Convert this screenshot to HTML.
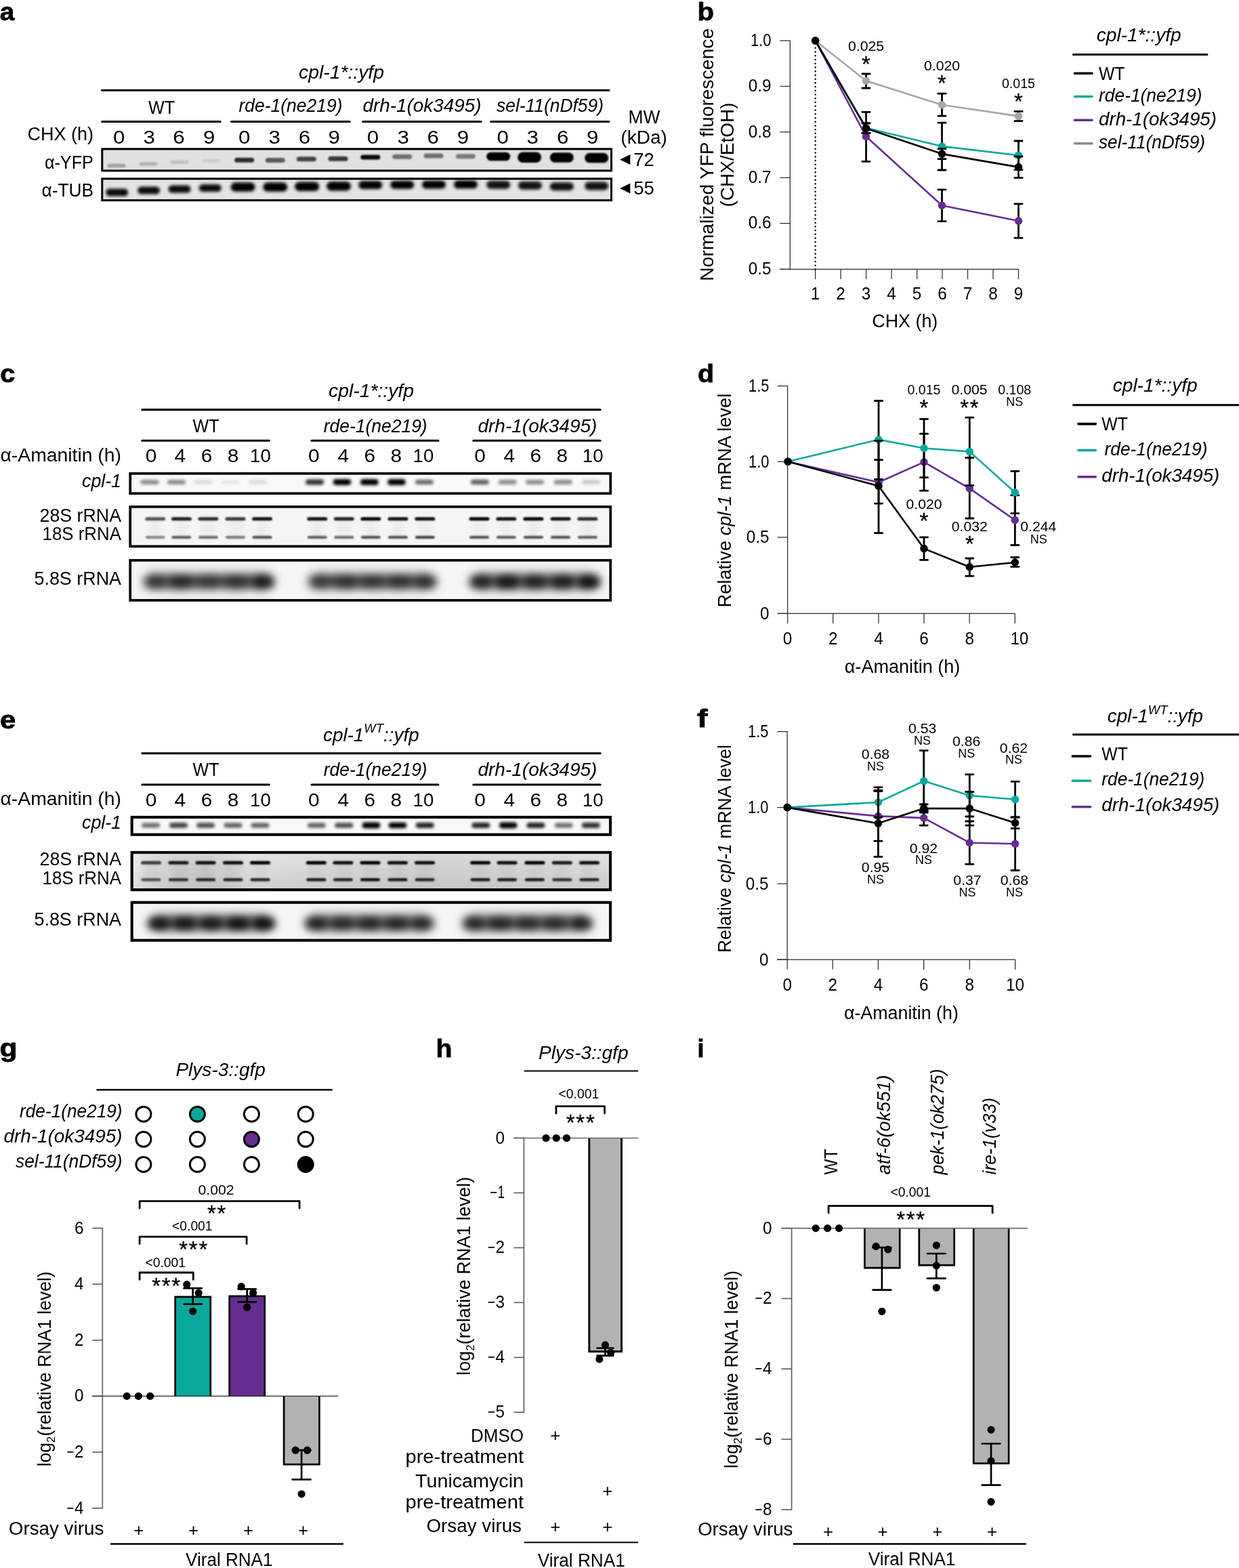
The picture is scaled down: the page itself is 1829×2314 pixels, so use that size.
<!DOCTYPE html>
<html lang="en"><head><meta charset="utf-8"><title>Figure</title>
<style>
html,body{margin:0;padding:0;background:#fff}
body{width:1829px;height:2314px;overflow:hidden}
svg{display:block;font-family:"Liberation Sans",sans-serif}
</style></head><body>
<svg width="1829" height="2314" viewBox="0 0 1829 2314">
<defs>
<filter id="b1" x="-30%" y="-100%" width="160%" height="300%"><feGaussianBlur stdDeviation="1.3"/></filter>
<filter id="b2" x="-30%" y="-100%" width="160%" height="300%"><feGaussianBlur stdDeviation="1.9"/></filter>
<filter id="b3" x="-40%" y="-150%" width="180%" height="400%"><feGaussianBlur stdDeviation="5"/></filter>
<filter id="b5" x="-40%" y="-150%" width="180%" height="400%"><feGaussianBlur stdDeviation="9"/></filter>
<filter id="b4" x="-40%" y="-150%" width="180%" height="400%"><feGaussianBlur stdDeviation="6"/></filter>
<linearGradient id="ge1" x1="0" y1="0" x2="0" y2="1"><stop offset="0" stop-color="#000" stop-opacity="0"/><stop offset="1" stop-color="#000" stop-opacity="0.1"/></linearGradient>
<linearGradient id="ge2" x1="0" y1="0" x2="1" y2="0"><stop offset="0" stop-color="#fff" stop-opacity="0.35"/><stop offset="0.25" stop-color="#000" stop-opacity="0"/><stop offset="0.6" stop-color="#000" stop-opacity="0.06"/><stop offset="1" stop-color="#000" stop-opacity="0.02"/></linearGradient>
<clipPath id="c1"><rect x="149.3" y="218.4" width="754.7" height="35.0"/></clipPath>
<clipPath id="c2"><rect x="149.3" y="262.3" width="754.7" height="34.8"/></clipPath>
<clipPath id="c3"><rect x="190.3" y="696.9" width="712.7" height="33.1"/></clipPath>
<clipPath id="c4"><rect x="190.3" y="746.0" width="712.7" height="62.1"/></clipPath>
<clipPath id="c5"><rect x="190.3" y="825.0" width="712.7" height="62.7"/></clipPath>
<clipPath id="c6"><rect x="192.6" y="1204.0" width="710.4" height="29.8"/></clipPath>
<clipPath id="c7"><rect x="192.6" y="1256.0" width="710.4" height="59.2"/></clipPath>
<clipPath id="c8"><rect x="192.6" y="1329.8" width="710.4" height="60.0"/></clipPath>

</defs>
<rect width="1829" height="2314" fill="#fff"/>
<text x="-0.3" y="29.8" font-size="36" font-weight="bold" textLength="21.5" lengthAdjust="spacingAndGlyphs" stroke="#000" stroke-width="0.8">a</text>
<text x="441.0" y="115.6" font-size="27" font-style="italic" textLength="126.0" lengthAdjust="spacingAndGlyphs" >cpl-1*::yfp</text>
<line x1="150.6" y1="133.2" x2="898.9" y2="133.2" stroke="#000" stroke-width="3.1" stroke-linecap="round" />
<line x1="150.6" y1="179.4" x2="325.1" y2="179.4" stroke="#000" stroke-width="3.0" stroke-linecap="round" />
<line x1="341.5" y1="179.4" x2="516.3" y2="179.4" stroke="#000" stroke-width="3.0" stroke-linecap="round" />
<line x1="535.6" y1="179.4" x2="710.1" y2="179.4" stroke="#000" stroke-width="3.0" stroke-linecap="round" />
<line x1="724.7" y1="179.4" x2="898.9" y2="179.4" stroke="#000" stroke-width="3.0" stroke-linecap="round" />
<text x="219.0" y="168.3" font-size="27" textLength="39.0" lengthAdjust="spacingAndGlyphs" >WT</text>
<text x="352.5" y="165.4" font-size="27" font-style="italic" textLength="153.0" lengthAdjust="spacingAndGlyphs" >rde-1(ne219)</text>
<text x="535.5" y="165.4" font-size="27" font-style="italic" textLength="175.0" lengthAdjust="spacingAndGlyphs" >drh-1(ok3495)</text>
<text x="733.0" y="165.4" font-size="27" font-style="italic" textLength="158.0" lengthAdjust="spacingAndGlyphs" >sel-11(nDf59)</text>
<text x="40.4" y="207.2" font-size="27" textLength="97.5" lengthAdjust="spacingAndGlyphs" >CHX (h)</text>
<text x="175.6" y="212.0" font-size="28.5" text-anchor="middle" textLength="17.4" lengthAdjust="spacingAndGlyphs" >0</text>
<text x="220.1" y="212.0" font-size="28.5" text-anchor="middle" textLength="17.4" lengthAdjust="spacingAndGlyphs" >3</text>
<text x="264.0" y="212.0" font-size="28.5" text-anchor="middle" textLength="17.4" lengthAdjust="spacingAndGlyphs" >6</text>
<text x="308.8" y="212.0" font-size="28.5" text-anchor="middle" textLength="17.4" lengthAdjust="spacingAndGlyphs" >9</text>
<text x="360.7" y="212.0" font-size="28.5" text-anchor="middle" textLength="17.4" lengthAdjust="spacingAndGlyphs" >0</text>
<text x="405.2" y="212.0" font-size="28.5" text-anchor="middle" textLength="17.4" lengthAdjust="spacingAndGlyphs" >3</text>
<text x="449.4" y="212.0" font-size="28.5" text-anchor="middle" textLength="17.4" lengthAdjust="spacingAndGlyphs" >6</text>
<text x="493.3" y="212.0" font-size="28.5" text-anchor="middle" textLength="17.4" lengthAdjust="spacingAndGlyphs" >9</text>
<text x="550.4" y="212.0" font-size="28.5" text-anchor="middle" textLength="17.4" lengthAdjust="spacingAndGlyphs" >0</text>
<text x="595.1" y="212.0" font-size="28.5" text-anchor="middle" textLength="17.4" lengthAdjust="spacingAndGlyphs" >3</text>
<text x="639.3" y="212.0" font-size="28.5" text-anchor="middle" textLength="17.4" lengthAdjust="spacingAndGlyphs" >6</text>
<text x="683.5" y="212.0" font-size="28.5" text-anchor="middle" textLength="17.4" lengthAdjust="spacingAndGlyphs" >9</text>
<text x="742.1" y="212.0" font-size="28.5" text-anchor="middle" textLength="17.4" lengthAdjust="spacingAndGlyphs" >0</text>
<text x="786.3" y="212.0" font-size="28.5" text-anchor="middle" textLength="17.4" lengthAdjust="spacingAndGlyphs" >3</text>
<text x="830.8" y="212.0" font-size="28.5" text-anchor="middle" textLength="17.4" lengthAdjust="spacingAndGlyphs" >6</text>
<text x="874.7" y="212.0" font-size="28.5" text-anchor="middle" textLength="17.4" lengthAdjust="spacingAndGlyphs" >9</text>
<text x="65.9" y="248.8" font-size="27" textLength="72.0" lengthAdjust="spacingAndGlyphs" >α-YFP</text>
<text x="61.5" y="289.8" font-size="27" textLength="76.5" lengthAdjust="spacingAndGlyphs" >α-TUB</text>
<text x="927.4" y="181.5" font-size="27" textLength="47.0" lengthAdjust="spacingAndGlyphs" >MW</text>
<text x="916.3" y="212.2" font-size="27" textLength="68.5" lengthAdjust="spacingAndGlyphs" >(kDa)</text>
<path d="M915 235.6L930.3 228.1V243.1Z" fill="#000"/>
<text x="935.2" y="244.9" font-size="28.5" textLength="30.5" lengthAdjust="spacingAndGlyphs" >72</text>
<path d="M915 278L930.3 270.5V285.5Z" fill="#000"/>
<text x="935.2" y="287.3" font-size="28.5" textLength="30.5" lengthAdjust="spacingAndGlyphs" >55</text>
<rect x="149.3" y="218.4" width="754.7" height="35.0" fill="#e1e1e1" />
<g clip-path="url(#c1)">
<rect x="158.5" y="241.7" width="27.0" height="5.5" rx="2.8" fill="#000" opacity="0.28" filter="url(#b1)"/>
<rect x="205.5" y="239.2" width="27.0" height="5.5" rx="2.8" fill="#000" opacity="0.2" filter="url(#b1)"/>
<rect x="251.5" y="236.4" width="27.0" height="5.5" rx="2.8" fill="#000" opacity="0.13" filter="url(#b1)"/>
<rect x="298.3" y="234.4" width="27.0" height="5.5" rx="2.8" fill="#000" opacity="0.08" filter="url(#b1)"/>
<rect x="346.1" y="232.7" width="29.0" height="7.0" rx="3.5" fill="#000" opacity="0.8" filter="url(#b1)"/>
<rect x="391.8" y="232.9" width="29.0" height="7.0" rx="3.5" fill="#000" opacity="0.6" filter="url(#b1)"/>
<rect x="437.8" y="231.3" width="29.0" height="7.0" rx="3.5" fill="#000" opacity="0.7" filter="url(#b1)"/>
<rect x="484.5" y="230.7" width="29.0" height="7.0" rx="3.5" fill="#000" opacity="0.75" filter="url(#b1)"/>
<rect x="532.3" y="228.6" width="29.0" height="7.0" rx="3.5" fill="#000" opacity="0.95" filter="url(#b1)"/>
<rect x="579.2" y="227.8" width="29.0" height="7.0" rx="3.5" fill="#000" opacity="0.5" filter="url(#b1)"/>
<rect x="625.5" y="226.5" width="29.0" height="7.0" rx="3.5" fill="#000" opacity="0.5" filter="url(#b1)"/>
<rect x="672.9" y="227.2" width="29.0" height="7.0" rx="3.5" fill="#000" opacity="0.45" filter="url(#b1)"/>
<rect x="718.2" y="224.8" width="35.0" height="12.5" rx="6.2" fill="#000" opacity="1" filter="url(#b1)"/>
<rect x="764.1" y="224.6" width="35.0" height="15.5" rx="7.8" fill="#000" opacity="1" filter="url(#b1)"/>
<rect x="811.8" y="225.3" width="35.0" height="14.5" rx="7.2" fill="#000" opacity="1" filter="url(#b1)"/>
<rect x="863.1" y="225.8" width="35.0" height="14.5" rx="7.2" fill="#000" opacity="1" filter="url(#b1)"/>
</g>
<rect x="150.8" y="219.9" width="751.7" height="32.0" fill="none" stroke="#000" stroke-width="3" />
<rect x="149.3" y="262.3" width="754.7" height="34.8" fill="#e3e3e3" />
<g clip-path="url(#c2)">
<rect x="156.2" y="278.5" width="33.0" height="11.0" rx="5.5" fill="#000" opacity="0.95" filter="url(#b2)"/>
<rect x="203.1" y="275.5" width="33.0" height="11.0" rx="5.5" fill="#000" opacity="0.95" filter="url(#b2)"/>
<rect x="248.5" y="273.5" width="33.0" height="11.0" rx="5.5" fill="#000" opacity="0.95" filter="url(#b2)"/>
<rect x="293.8" y="271.9" width="33.0" height="11.0" rx="5.5" fill="#000" opacity="0.95" filter="url(#b2)"/>
<rect x="340.6" y="269.2" width="36.0" height="13.5" rx="6.8" fill="#000" opacity="1" filter="url(#b2)"/>
<rect x="388.3" y="269.2" width="36.0" height="13.5" rx="6.8" fill="#000" opacity="1" filter="url(#b2)"/>
<rect x="435.2" y="268.4" width="36.0" height="13.5" rx="6.8" fill="#000" opacity="1" filter="url(#b2)"/>
<rect x="482.0" y="267.9" width="36.0" height="13.5" rx="6.8" fill="#000" opacity="1" filter="url(#b2)"/>
<rect x="529.3" y="267.1" width="35.0" height="12.0" rx="6.0" fill="#000" opacity="1" filter="url(#b2)"/>
<rect x="576.2" y="266.8" width="35.0" height="12.0" rx="6.0" fill="#000" opacity="1" filter="url(#b2)"/>
<rect x="623.0" y="266.4" width="35.0" height="12.0" rx="6.0" fill="#000" opacity="1" filter="url(#b2)"/>
<rect x="669.9" y="266.2" width="35.0" height="12.0" rx="6.0" fill="#000" opacity="1" filter="url(#b2)"/>
<rect x="718.2" y="266.8" width="35.0" height="12.0" rx="6.0" fill="#000" opacity="0.92" filter="url(#b2)"/>
<rect x="765.0" y="267.7" width="35.0" height="12.0" rx="6.0" fill="#000" opacity="0.92" filter="url(#b2)"/>
<rect x="811.8" y="269.2" width="35.0" height="12.0" rx="6.0" fill="#000" opacity="0.92" filter="url(#b2)"/>
<rect x="863.1" y="268.6" width="35.0" height="12.0" rx="6.0" fill="#000" opacity="0.92" filter="url(#b2)"/>
</g>
<rect x="150.8" y="263.8" width="751.7" height="31.8" fill="none" stroke="#000" stroke-width="3" />
<text x="1029.5" y="29.6" font-size="36" font-weight="bold" textLength="24.5" lengthAdjust="spacingAndGlyphs" stroke="#000" stroke-width="0.8">b</text>
<line x1="1166.3" y1="59.4" x2="1166.3" y2="398.0" stroke="#2a2a2a" stroke-width="1.25" stroke-linecap="butt" />
<line x1="1151.3" y1="60.0" x2="1166.3" y2="60.0" stroke="#2a2a2a" stroke-width="1.25" stroke-linecap="butt" />
<line x1="1151.3" y1="127.4" x2="1166.3" y2="127.4" stroke="#2a2a2a" stroke-width="1.25" stroke-linecap="butt" />
<line x1="1151.3" y1="194.8" x2="1166.3" y2="194.8" stroke="#2a2a2a" stroke-width="1.25" stroke-linecap="butt" />
<line x1="1151.3" y1="262.2" x2="1166.3" y2="262.2" stroke="#2a2a2a" stroke-width="1.25" stroke-linecap="butt" />
<line x1="1151.3" y1="329.6" x2="1166.3" y2="329.6" stroke="#2a2a2a" stroke-width="1.25" stroke-linecap="butt" />
<line x1="1151.3" y1="397.4" x2="1166.3" y2="397.4" stroke="#2a2a2a" stroke-width="1.25" stroke-linecap="butt" />
<line x1="1151.3" y1="397.4" x2="1504.0" y2="397.4" stroke="#2a2a2a" stroke-width="1.25" stroke-linecap="butt" />
<line x1="1203.6" y1="397.4" x2="1203.6" y2="412.1" stroke="#2a2a2a" stroke-width="1.25" stroke-linecap="butt" />
<line x1="1241.1" y1="397.4" x2="1241.1" y2="412.1" stroke="#2a2a2a" stroke-width="1.25" stroke-linecap="butt" />
<line x1="1278.6" y1="397.4" x2="1278.6" y2="412.1" stroke="#2a2a2a" stroke-width="1.25" stroke-linecap="butt" />
<line x1="1316.1" y1="397.4" x2="1316.1" y2="412.1" stroke="#2a2a2a" stroke-width="1.25" stroke-linecap="butt" />
<line x1="1353.6" y1="397.4" x2="1353.6" y2="412.1" stroke="#2a2a2a" stroke-width="1.25" stroke-linecap="butt" />
<line x1="1391.0" y1="397.4" x2="1391.0" y2="412.1" stroke="#2a2a2a" stroke-width="1.25" stroke-linecap="butt" />
<line x1="1428.5" y1="397.4" x2="1428.5" y2="412.1" stroke="#2a2a2a" stroke-width="1.25" stroke-linecap="butt" />
<line x1="1466.0" y1="397.4" x2="1466.0" y2="412.1" stroke="#2a2a2a" stroke-width="1.25" stroke-linecap="butt" />
<line x1="1503.5" y1="397.4" x2="1503.5" y2="412.1" stroke="#2a2a2a" stroke-width="1.25" stroke-linecap="butt" />
<text x="1138.5" y="67.8" font-size="25" text-anchor="end" textLength="30.4" lengthAdjust="spacingAndGlyphs" >1.0</text>
<text x="1138.5" y="135.2" font-size="25" text-anchor="end" textLength="33.7" lengthAdjust="spacingAndGlyphs" >0.9</text>
<text x="1138.5" y="202.6" font-size="25" text-anchor="end" textLength="33.7" lengthAdjust="spacingAndGlyphs" >0.8</text>
<text x="1138.5" y="270.0" font-size="25" text-anchor="end" textLength="33.7" lengthAdjust="spacingAndGlyphs" >0.7</text>
<text x="1138.5" y="337.4" font-size="25" text-anchor="end" textLength="33.7" lengthAdjust="spacingAndGlyphs" >0.6</text>
<text x="1138.5" y="405.2" font-size="25" text-anchor="end" textLength="33.7" lengthAdjust="spacingAndGlyphs" >0.5</text>
<text x="1203.6" y="442.2" font-size="25" text-anchor="middle" textLength="13.5" lengthAdjust="spacingAndGlyphs" >1</text>
<text x="1241.1" y="442.2" font-size="25" text-anchor="middle" textLength="13.5" lengthAdjust="spacingAndGlyphs" >2</text>
<text x="1278.6" y="442.2" font-size="25" text-anchor="middle" textLength="13.5" lengthAdjust="spacingAndGlyphs" >3</text>
<text x="1316.1" y="442.2" font-size="25" text-anchor="middle" textLength="13.5" lengthAdjust="spacingAndGlyphs" >4</text>
<text x="1353.6" y="442.2" font-size="25" text-anchor="middle" textLength="13.5" lengthAdjust="spacingAndGlyphs" >5</text>
<text x="1391.0" y="442.2" font-size="25" text-anchor="middle" textLength="13.5" lengthAdjust="spacingAndGlyphs" >6</text>
<text x="1428.5" y="442.2" font-size="25" text-anchor="middle" textLength="13.5" lengthAdjust="spacingAndGlyphs" >7</text>
<text x="1466.0" y="442.2" font-size="25" text-anchor="middle" textLength="13.5" lengthAdjust="spacingAndGlyphs" >8</text>
<text x="1503.5" y="442.2" font-size="25" text-anchor="middle" textLength="13.5" lengthAdjust="spacingAndGlyphs" >9</text>
<line x1="1203.6" y1="70.8" x2="1203.6" y2="397.5" stroke="#000" stroke-width="2.5" stroke-linecap="round" stroke-dasharray="0.01 5.72"/>
<text x="1287.3" y="482.9" font-size="27" textLength="97.0" lengthAdjust="spacingAndGlyphs" >CHX (h)</text>
<text x="1053.4" y="228.3" font-size="27" text-anchor="middle" textLength="373.0" lengthAdjust="spacingAndGlyphs" transform="rotate(-90 1053.4 228.3)" >Normalized YFP fluorescence</text>
<text x="1083.4" y="228.5" font-size="27" text-anchor="middle" textLength="154.0" lengthAdjust="spacingAndGlyphs" transform="rotate(-90 1083.4 228.5)" >(CHX/EtOH)</text>
<polyline points="1203.6,60.0 1278.5,119.3 1390.5,154.7 1503.5,171.4" fill="none" stroke="#a6a6a6" stroke-width="2.6" stroke-linejoin="round"/>
<line x1="1278.5" y1="109.0" x2="1278.5" y2="130.0" stroke="#000" stroke-width="2.8" stroke-linecap="butt" />
<line x1="1272.9" y1="109.0" x2="1284.1" y2="109.0" stroke="#000" stroke-width="2.8" stroke-linecap="round" />
<line x1="1272.9" y1="130.0" x2="1284.1" y2="130.0" stroke="#000" stroke-width="2.8" stroke-linecap="round" />
<line x1="1390.5" y1="138.2" x2="1390.5" y2="171.1" stroke="#000" stroke-width="2.8" stroke-linecap="butt" />
<line x1="1384.9" y1="138.2" x2="1396.1" y2="138.2" stroke="#000" stroke-width="2.8" stroke-linecap="round" />
<line x1="1384.9" y1="171.1" x2="1396.1" y2="171.1" stroke="#000" stroke-width="2.8" stroke-linecap="round" />
<line x1="1503.5" y1="164.4" x2="1503.5" y2="178.7" stroke="#000" stroke-width="2.8" stroke-linecap="butt" />
<line x1="1497.9" y1="164.4" x2="1509.1" y2="164.4" stroke="#000" stroke-width="2.8" stroke-linecap="round" />
<line x1="1497.9" y1="178.7" x2="1509.1" y2="178.7" stroke="#000" stroke-width="2.8" stroke-linecap="round" />
<circle cx="1203.6" cy="60.0" r="5.75" fill="#a6a6a6"/>
<circle cx="1278.5" cy="119.3" r="5.75" fill="#a6a6a6"/>
<circle cx="1390.5" cy="154.7" r="5.75" fill="#a6a6a6"/>
<circle cx="1503.5" cy="171.4" r="5.75" fill="#a6a6a6"/>
<polyline points="1203.6,60.0 1278.5,201.5 1390.5,303.3 1503.5,326.1" fill="none" stroke="#662d91" stroke-width="2.6" stroke-linejoin="round"/>
<line x1="1278.5" y1="165.3" x2="1278.5" y2="238.4" stroke="#000" stroke-width="2.8" stroke-linecap="butt" />
<line x1="1272.9" y1="165.3" x2="1284.1" y2="165.3" stroke="#000" stroke-width="2.8" stroke-linecap="round" />
<line x1="1272.9" y1="238.4" x2="1284.1" y2="238.4" stroke="#000" stroke-width="2.8" stroke-linecap="round" />
<line x1="1390.5" y1="279.8" x2="1390.5" y2="326.7" stroke="#000" stroke-width="2.8" stroke-linecap="butt" />
<line x1="1384.9" y1="279.8" x2="1396.1" y2="279.8" stroke="#000" stroke-width="2.8" stroke-linecap="round" />
<line x1="1384.9" y1="326.7" x2="1396.1" y2="326.7" stroke="#000" stroke-width="2.8" stroke-linecap="round" />
<line x1="1503.5" y1="300.8" x2="1503.5" y2="351.1" stroke="#000" stroke-width="2.8" stroke-linecap="butt" />
<line x1="1497.9" y1="300.8" x2="1509.1" y2="300.8" stroke="#000" stroke-width="2.8" stroke-linecap="round" />
<line x1="1497.9" y1="351.1" x2="1509.1" y2="351.1" stroke="#000" stroke-width="2.8" stroke-linecap="round" />
<circle cx="1203.6" cy="60.0" r="5.75" fill="#662d91"/>
<circle cx="1278.5" cy="201.5" r="5.75" fill="#662d91"/>
<circle cx="1390.5" cy="303.3" r="5.75" fill="#662d91"/>
<circle cx="1503.5" cy="326.1" r="5.75" fill="#662d91"/>
<polyline points="1203.6,60.0 1278.5,188.8 1390.5,215.9 1503.5,229.3" fill="none" stroke="#0aa89c" stroke-width="2.6" stroke-linejoin="round"/>
<line x1="1278.5" y1="181.8" x2="1278.5" y2="196.4" stroke="#000" stroke-width="2.8" stroke-linecap="butt" />
<line x1="1272.9" y1="181.8" x2="1284.1" y2="181.8" stroke="#000" stroke-width="2.8" stroke-linecap="round" />
<line x1="1272.9" y1="196.4" x2="1284.1" y2="196.4" stroke="#000" stroke-width="2.8" stroke-linecap="round" />
<line x1="1390.5" y1="181.1" x2="1390.5" y2="251.0" stroke="#000" stroke-width="2.8" stroke-linecap="butt" />
<line x1="1384.9" y1="181.1" x2="1396.1" y2="181.1" stroke="#000" stroke-width="2.8" stroke-linecap="round" />
<line x1="1384.9" y1="251.0" x2="1396.1" y2="251.0" stroke="#000" stroke-width="2.8" stroke-linecap="round" />
<line x1="1503.5" y1="208.0" x2="1503.5" y2="250.6" stroke="#000" stroke-width="2.8" stroke-linecap="butt" />
<line x1="1497.9" y1="208.0" x2="1509.1" y2="208.0" stroke="#000" stroke-width="2.8" stroke-linecap="round" />
<line x1="1497.9" y1="250.6" x2="1509.1" y2="250.6" stroke="#000" stroke-width="2.8" stroke-linecap="round" />
<circle cx="1203.6" cy="60.0" r="5.75" fill="#0aa89c"/>
<circle cx="1278.5" cy="188.8" r="5.75" fill="#0aa89c"/>
<circle cx="1390.5" cy="215.9" r="5.75" fill="#0aa89c"/>
<circle cx="1503.5" cy="229.3" r="5.75" fill="#0aa89c"/>
<polyline points="1203.6,60.0 1278.5,189.4 1390.5,227.1 1503.5,246.6" fill="none" stroke="#000" stroke-width="2.6" stroke-linejoin="round"/>
<line x1="1278.5" y1="181.8" x2="1278.5" y2="196.4" stroke="#000" stroke-width="2.8" stroke-linecap="butt" />
<line x1="1272.9" y1="181.8" x2="1284.1" y2="181.8" stroke="#000" stroke-width="2.8" stroke-linecap="round" />
<line x1="1272.9" y1="196.4" x2="1284.1" y2="196.4" stroke="#000" stroke-width="2.8" stroke-linecap="round" />
<line x1="1390.5" y1="219.5" x2="1390.5" y2="234.6" stroke="#000" stroke-width="2.8" stroke-linecap="butt" />
<line x1="1384.9" y1="219.5" x2="1396.1" y2="219.5" stroke="#000" stroke-width="2.8" stroke-linecap="round" />
<line x1="1384.9" y1="234.6" x2="1396.1" y2="234.6" stroke="#000" stroke-width="2.8" stroke-linecap="round" />
<line x1="1503.5" y1="231.0" x2="1503.5" y2="262.4" stroke="#000" stroke-width="2.8" stroke-linecap="butt" />
<line x1="1497.9" y1="231.0" x2="1509.1" y2="231.0" stroke="#000" stroke-width="2.8" stroke-linecap="round" />
<line x1="1497.9" y1="262.4" x2="1509.1" y2="262.4" stroke="#000" stroke-width="2.8" stroke-linecap="round" />
<circle cx="1203.6" cy="60.0" r="5.75" fill="#000"/>
<circle cx="1278.5" cy="189.4" r="5.75" fill="#000"/>
<circle cx="1390.5" cy="227.1" r="5.75" fill="#000"/>
<circle cx="1503.5" cy="246.6" r="5.75" fill="#000"/>
<text x="1278.5" y="74.6" font-size="19.3" text-anchor="middle" textLength="53.1" lengthAdjust="spacingAndGlyphs" >0.025</text>
<text x="1278.5" y="105.7" font-size="33" text-anchor="middle" stroke="#000" stroke-width="0.3">*</text>
<text x="1390.5" y="103.5" font-size="19.3" text-anchor="middle" textLength="53.1" lengthAdjust="spacingAndGlyphs" >0.020</text>
<text x="1390.5" y="134.0" font-size="33" text-anchor="middle" stroke="#000" stroke-width="0.3">*</text>
<text x="1503.5" y="130.0" font-size="19.3" text-anchor="middle" textLength="49.1" lengthAdjust="spacingAndGlyphs" >0.015</text>
<text x="1503.5" y="160.5" font-size="33" text-anchor="middle" stroke="#000" stroke-width="0.3">*</text>
<text x="1618.7" y="60.9" font-size="27" font-style="italic" textLength="125.0" lengthAdjust="spacingAndGlyphs" >cpl-1*::yfp</text>
<line x1="1584.5" y1="80.6" x2="1781.9" y2="80.6" stroke="#000" stroke-width="3" stroke-linecap="round" />
<line x1="1586.5" y1="108.2" x2="1612.0" y2="108.2" stroke="#000" stroke-width="3.6" stroke-linecap="round" />
<text x="1622.0" y="117.8" font-size="27" textLength="38.5" lengthAdjust="spacingAndGlyphs" >WT</text>
<line x1="1586.5" y1="142.5" x2="1612.0" y2="142.5" stroke="#0aa89c" stroke-width="3.6" stroke-linecap="round" />
<text x="1622.0" y="150.3" font-size="27" font-style="italic" textLength="152.5" lengthAdjust="spacingAndGlyphs" >rde-1(ne219)</text>
<line x1="1586.5" y1="177.2" x2="1612.0" y2="177.2" stroke="#662d91" stroke-width="3.6" stroke-linecap="round" />
<text x="1622.0" y="184.5" font-size="27" font-style="italic" textLength="174.0" lengthAdjust="spacingAndGlyphs" >drh-1(ok3495)</text>
<line x1="1586.5" y1="211.7" x2="1612.0" y2="211.7" stroke="#8c8c8c" stroke-width="3.6" stroke-linecap="round" />
<text x="1622.0" y="218.8" font-size="27" font-style="italic" textLength="157.0" lengthAdjust="spacingAndGlyphs" >sel-11(nDf59)</text>
<text x="0.2" y="563.5" font-size="36" font-weight="bold" textLength="22.0" lengthAdjust="spacingAndGlyphs" stroke="#000" stroke-width="0.8">c</text>
<text x="485.0" y="585.6" font-size="27" font-style="italic" textLength="126.0" lengthAdjust="spacingAndGlyphs" >cpl-1*::yfp</text>
<line x1="209.8" y1="604.6" x2="886.1" y2="604.6" stroke="#000" stroke-width="3.1" stroke-linecap="round" />
<line x1="209.8" y1="650.3" x2="397.3" y2="650.3" stroke="#000" stroke-width="3.1" stroke-linecap="round" />
<line x1="460.0" y1="650.3" x2="646.9" y2="650.3" stroke="#000" stroke-width="3.1" stroke-linecap="round" />
<line x1="698.9" y1="650.3" x2="886.1" y2="650.3" stroke="#000" stroke-width="3.1" stroke-linecap="round" />
<text x="284.5" y="637.7" font-size="27" textLength="39.0" lengthAdjust="spacingAndGlyphs" >WT</text>
<text x="477.7" y="637.7" font-size="27" font-style="italic" textLength="153.0" lengthAdjust="spacingAndGlyphs" >rde-1(ne219)</text>
<text x="705.4" y="637.7" font-size="27" font-style="italic" textLength="176.0" lengthAdjust="spacingAndGlyphs" >drh-1(ok3495)</text>
<text x="0.5" y="680.8" font-size="27" textLength="178.5" lengthAdjust="spacingAndGlyphs" >α-Amanitin (h)</text>
<text x="223.0" y="682.1" font-size="28.5" text-anchor="middle" textLength="16.6" lengthAdjust="spacingAndGlyphs" >0</text>
<text x="265.8" y="682.1" font-size="28.5" text-anchor="middle" textLength="16.6" lengthAdjust="spacingAndGlyphs" >4</text>
<text x="305.0" y="682.1" font-size="28.5" text-anchor="middle" textLength="16.6" lengthAdjust="spacingAndGlyphs" >6</text>
<text x="344.0" y="682.1" font-size="28.5" text-anchor="middle" textLength="16.6" lengthAdjust="spacingAndGlyphs" >8</text>
<text x="384.4" y="682.1" font-size="28.5" text-anchor="middle" textLength="30.7" lengthAdjust="spacingAndGlyphs" >10</text>
<text x="463.3" y="682.1" font-size="28.5" text-anchor="middle" textLength="16.6" lengthAdjust="spacingAndGlyphs" >0</text>
<text x="506.7" y="682.1" font-size="28.5" text-anchor="middle" textLength="16.6" lengthAdjust="spacingAndGlyphs" >4</text>
<text x="545.9" y="682.1" font-size="28.5" text-anchor="middle" textLength="16.6" lengthAdjust="spacingAndGlyphs" >6</text>
<text x="584.8" y="682.1" font-size="28.5" text-anchor="middle" textLength="16.6" lengthAdjust="spacingAndGlyphs" >8</text>
<text x="624.9" y="682.1" font-size="28.5" text-anchor="middle" textLength="30.7" lengthAdjust="spacingAndGlyphs" >10</text>
<text x="708.6" y="682.1" font-size="28.5" text-anchor="middle" textLength="16.6" lengthAdjust="spacingAndGlyphs" >0</text>
<text x="751.7" y="682.1" font-size="28.5" text-anchor="middle" textLength="16.6" lengthAdjust="spacingAndGlyphs" >4</text>
<text x="790.9" y="682.1" font-size="28.5" text-anchor="middle" textLength="16.6" lengthAdjust="spacingAndGlyphs" >6</text>
<text x="829.8" y="682.1" font-size="28.5" text-anchor="middle" textLength="16.6" lengthAdjust="spacingAndGlyphs" >8</text>
<text x="875.2" y="682.1" font-size="28.5" text-anchor="middle" textLength="30.7" lengthAdjust="spacingAndGlyphs" >10</text>
<text x="179.0" y="718.8" font-size="27" text-anchor="end" font-style="italic" textLength="58.0" lengthAdjust="spacingAndGlyphs" >cpl-1</text>
<text x="179.0" y="770.0" font-size="27" text-anchor="end" textLength="120.5" lengthAdjust="spacingAndGlyphs" >28S rRNA</text>
<text x="179.0" y="797.0" font-size="27" text-anchor="end" textLength="116.5" lengthAdjust="spacingAndGlyphs" >18S rRNA</text>
<text x="179.0" y="862.8" font-size="27" text-anchor="end" textLength="128.5" lengthAdjust="spacingAndGlyphs" >5.8S rRNA</text>
<rect x="190.3" y="696.9" width="712.7" height="33.1" fill="#f9f9f9" />
<g clip-path="url(#c3)">
<rect x="207.5" y="708.2" width="27.0" height="6.6" rx="3.3" fill="#000" opacity="0.45999999999999996" filter="url(#b2)"/>
<rect x="247.0" y="708.2" width="27.0" height="6.6" rx="3.3" fill="#000" opacity="0.45999999999999996" filter="url(#b2)"/>
<rect x="286.5" y="708.8" width="27.0" height="5.5" rx="2.7" fill="#000" opacity="0.13799999999999998" filter="url(#b2)"/>
<rect x="326.1" y="708.8" width="27.0" height="5.3" rx="2.7" fill="#000" opacity="0.092" filter="url(#b2)"/>
<rect x="367.1" y="708.8" width="27.0" height="5.5" rx="2.7" fill="#000" opacity="0.13799999999999998" filter="url(#b2)"/>
<rect x="451.0" y="707.6" width="27.0" height="7.8" rx="3.9" fill="#000" opacity="0.8049999999999999" filter="url(#b2)"/>
<rect x="491.5" y="707.1" width="27.0" height="8.8" rx="4.4" fill="#000" opacity="1" filter="url(#b2)"/>
<rect x="531.8" y="707.0" width="27.0" height="9.0" rx="4.5" fill="#000" opacity="1" filter="url(#b2)"/>
<rect x="571.9" y="707.1" width="27.0" height="8.8" rx="4.4" fill="#000" opacity="1" filter="url(#b2)"/>
<rect x="612.9" y="708.0" width="27.0" height="7.0" rx="3.5" fill="#000" opacity="0.575" filter="url(#b2)"/>
<rect x="694.8" y="707.9" width="27.0" height="7.2" rx="3.6" fill="#000" opacity="0.6325" filter="url(#b2)"/>
<rect x="735.8" y="708.2" width="27.0" height="6.6" rx="3.3" fill="#000" opacity="0.45999999999999996" filter="url(#b2)"/>
<rect x="775.9" y="708.2" width="27.0" height="6.6" rx="3.3" fill="#000" opacity="0.45999999999999996" filter="url(#b2)"/>
<rect x="817.8" y="708.2" width="27.0" height="6.6" rx="3.3" fill="#000" opacity="0.45999999999999996" filter="url(#b2)"/>
<rect x="858.8" y="708.6" width="27.0" height="5.7" rx="2.9" fill="#000" opacity="0.207" filter="url(#b2)"/>
</g>
<rect x="192.2" y="698.8" width="709.0" height="29.4" fill="none" stroke="#000" stroke-width="3.7" />
<rect x="190.3" y="746.0" width="712.7" height="62.1" fill="#f5f5f5" />
<g clip-path="url(#c4)">
<rect x="219.2" y="762.7" width="20.0" height="33.2" rx="10.0" fill="#000" opacity="0.03" filter="url(#b3)"/>
<rect x="214.2" y="763.2" width="30.0" height="5.0" rx="2.5" fill="#000" opacity="0.66" filter="url(#b1)"/>
<rect x="214.7" y="790.7" width="29.0" height="4.4" rx="2.2" fill="#000" opacity="0.44000000000000006" filter="url(#b1)"/>
<rect x="257.9" y="762.7" width="20.0" height="33.2" rx="10.0" fill="#000" opacity="0.03" filter="url(#b3)"/>
<rect x="252.9" y="763.2" width="30.0" height="5.0" rx="2.5" fill="#000" opacity="0.8800000000000001" filter="url(#b1)"/>
<rect x="253.4" y="790.7" width="29.0" height="4.4" rx="2.2" fill="#000" opacity="0.6050000000000001" filter="url(#b1)"/>
<rect x="297.4" y="762.7" width="20.0" height="33.2" rx="10.0" fill="#000" opacity="0.03" filter="url(#b3)"/>
<rect x="292.4" y="763.2" width="30.0" height="5.0" rx="2.5" fill="#000" opacity="0.8250000000000001" filter="url(#b1)"/>
<rect x="292.9" y="790.7" width="29.0" height="4.4" rx="2.2" fill="#000" opacity="0.55" filter="url(#b1)"/>
<rect x="337.5" y="762.7" width="20.0" height="33.2" rx="10.0" fill="#000" opacity="0.03" filter="url(#b3)"/>
<rect x="332.5" y="763.2" width="30.0" height="5.0" rx="2.5" fill="#000" opacity="0.77" filter="url(#b1)"/>
<rect x="333.0" y="790.7" width="29.0" height="4.4" rx="2.2" fill="#000" opacity="0.49500000000000005" filter="url(#b1)"/>
<rect x="377.0" y="762.7" width="20.0" height="33.2" rx="10.0" fill="#000" opacity="0.03" filter="url(#b3)"/>
<rect x="372.0" y="763.2" width="30.0" height="5.0" rx="2.5" fill="#000" opacity="0.935" filter="url(#b1)"/>
<rect x="372.5" y="790.7" width="29.0" height="4.4" rx="2.2" fill="#000" opacity="0.66" filter="url(#b1)"/>
<rect x="458.3" y="762.7" width="20.0" height="33.2" rx="10.0" fill="#000" opacity="0.03" filter="url(#b3)"/>
<rect x="453.3" y="763.2" width="30.0" height="5.0" rx="2.5" fill="#000" opacity="0.935" filter="url(#b1)"/>
<rect x="453.8" y="790.7" width="29.0" height="4.4" rx="2.2" fill="#000" opacity="0.6050000000000001" filter="url(#b1)"/>
<rect x="497.8" y="762.7" width="20.0" height="33.2" rx="10.0" fill="#000" opacity="0.03" filter="url(#b3)"/>
<rect x="492.8" y="763.2" width="30.0" height="5.0" rx="2.5" fill="#000" opacity="0.8800000000000001" filter="url(#b1)"/>
<rect x="493.3" y="790.7" width="29.0" height="4.4" rx="2.2" fill="#000" opacity="0.55" filter="url(#b1)"/>
<rect x="537.3" y="762.7" width="20.0" height="33.2" rx="10.0" fill="#000" opacity="0.03" filter="url(#b3)"/>
<rect x="532.3" y="763.2" width="30.0" height="5.0" rx="2.5" fill="#000" opacity="0.9900000000000001" filter="url(#b1)"/>
<rect x="532.8" y="790.7" width="29.0" height="4.4" rx="2.2" fill="#000" opacity="0.66" filter="url(#b1)"/>
<rect x="577.4" y="762.7" width="20.0" height="33.2" rx="10.0" fill="#000" opacity="0.03" filter="url(#b3)"/>
<rect x="572.4" y="763.2" width="30.0" height="5.0" rx="2.5" fill="#000" opacity="0.935" filter="url(#b1)"/>
<rect x="572.9" y="790.7" width="29.0" height="4.4" rx="2.2" fill="#000" opacity="0.66" filter="url(#b1)"/>
<rect x="617.3" y="762.7" width="20.0" height="33.2" rx="10.0" fill="#000" opacity="0.03" filter="url(#b3)"/>
<rect x="612.3" y="763.2" width="30.0" height="5.0" rx="2.5" fill="#000" opacity="0.935" filter="url(#b1)"/>
<rect x="612.8" y="790.7" width="29.0" height="4.4" rx="2.2" fill="#000" opacity="0.7150000000000001" filter="url(#b1)"/>
<rect x="697.5" y="762.7" width="20.0" height="33.2" rx="10.0" fill="#000" opacity="0.03" filter="url(#b3)"/>
<rect x="692.5" y="763.2" width="30.0" height="5.0" rx="2.5" fill="#000" opacity="0.9900000000000001" filter="url(#b1)"/>
<rect x="693.0" y="790.7" width="29.0" height="4.4" rx="2.2" fill="#000" opacity="0.66" filter="url(#b1)"/>
<rect x="737.3" y="762.7" width="20.0" height="33.2" rx="10.0" fill="#000" opacity="0.03" filter="url(#b3)"/>
<rect x="732.3" y="763.2" width="30.0" height="5.0" rx="2.5" fill="#000" opacity="0.935" filter="url(#b1)"/>
<rect x="732.8" y="790.7" width="29.0" height="4.4" rx="2.2" fill="#000" opacity="0.6050000000000001" filter="url(#b1)"/>
<rect x="777.4" y="762.7" width="20.0" height="33.2" rx="10.0" fill="#000" opacity="0.03" filter="url(#b3)"/>
<rect x="772.4" y="763.2" width="30.0" height="5.0" rx="2.5" fill="#000" opacity="0.9900000000000001" filter="url(#b1)"/>
<rect x="772.9" y="790.7" width="29.0" height="4.4" rx="2.2" fill="#000" opacity="0.66" filter="url(#b1)"/>
<rect x="817.5" y="762.7" width="20.0" height="33.2" rx="10.0" fill="#000" opacity="0.03" filter="url(#b3)"/>
<rect x="812.5" y="763.2" width="30.0" height="5.0" rx="2.5" fill="#000" opacity="0.935" filter="url(#b1)"/>
<rect x="813.0" y="790.7" width="29.0" height="4.4" rx="2.2" fill="#000" opacity="0.66" filter="url(#b1)"/>
<rect x="857.3" y="762.7" width="20.0" height="33.2" rx="10.0" fill="#000" opacity="0.03" filter="url(#b3)"/>
<rect x="852.3" y="763.2" width="30.0" height="5.0" rx="2.5" fill="#000" opacity="0.8250000000000001" filter="url(#b1)"/>
<rect x="852.8" y="790.7" width="29.0" height="4.4" rx="2.2" fill="#000" opacity="0.6050000000000001" filter="url(#b1)"/>
</g>
<rect x="192.2" y="747.9" width="709.0" height="58.4" fill="none" stroke="#000" stroke-width="3.7" />
<rect x="190.3" y="825.0" width="712.7" height="62.7" fill="#f6f6f6" />
<g clip-path="url(#c5)">
<rect x="211.0" y="842.9" width="194.0" height="30.0" rx="15.0" fill="#000" opacity="0.22" filter="url(#b5)"/>
<rect x="216.0" y="847.9" width="184.0" height="20.0" rx="10.0" fill="#000" opacity="0.6" filter="url(#b4)"/>
<rect x="210.4" y="850.4" width="32.0" height="17.0" rx="8.5" fill="#000" opacity="0.35" filter="url(#b4)"/>
<rect x="251.2" y="850.4" width="32.0" height="17.0" rx="8.5" fill="#000" opacity="0.5" filter="url(#b4)"/>
<rect x="292.0" y="850.4" width="32.0" height="17.0" rx="8.5" fill="#000" opacity="0.3" filter="url(#b4)"/>
<rect x="332.8" y="850.4" width="32.0" height="17.0" rx="8.5" fill="#000" opacity="0.4" filter="url(#b4)"/>
<rect x="373.6" y="850.4" width="32.0" height="17.0" rx="8.5" fill="#000" opacity="0.7" filter="url(#b4)"/>
<rect x="454.0" y="842.9" width="191.0" height="30.0" rx="15.0" fill="#000" opacity="0.22" filter="url(#b5)"/>
<rect x="459.0" y="847.9" width="181.0" height="20.0" rx="10.0" fill="#000" opacity="0.6" filter="url(#b4)"/>
<rect x="453.1" y="850.4" width="32.0" height="17.0" rx="8.5" fill="#000" opacity="0.3" filter="url(#b4)"/>
<rect x="493.3" y="850.4" width="32.0" height="17.0" rx="8.5" fill="#000" opacity="0.4" filter="url(#b4)"/>
<rect x="533.5" y="850.4" width="32.0" height="17.0" rx="8.5" fill="#000" opacity="0.35" filter="url(#b4)"/>
<rect x="573.7" y="850.4" width="32.0" height="17.0" rx="8.5" fill="#000" opacity="0.4" filter="url(#b4)"/>
<rect x="613.9" y="850.4" width="32.0" height="17.0" rx="8.5" fill="#000" opacity="0.45" filter="url(#b4)"/>
<rect x="693.0" y="842.9" width="193.0" height="30.0" rx="15.0" fill="#000" opacity="0.22" filter="url(#b5)"/>
<rect x="698.0" y="847.9" width="183.0" height="20.0" rx="10.0" fill="#000" opacity="0.6" filter="url(#b4)"/>
<rect x="692.3" y="850.4" width="32.0" height="17.0" rx="8.5" fill="#000" opacity="0.6" filter="url(#b4)"/>
<rect x="732.9" y="850.4" width="32.0" height="17.0" rx="8.5" fill="#000" opacity="0.75" filter="url(#b4)"/>
<rect x="773.5" y="850.4" width="32.0" height="17.0" rx="8.5" fill="#000" opacity="0.6" filter="url(#b4)"/>
<rect x="814.1" y="850.4" width="32.0" height="17.0" rx="8.5" fill="#000" opacity="0.65" filter="url(#b4)"/>
<rect x="854.7" y="850.4" width="32.0" height="17.0" rx="8.5" fill="#000" opacity="0.8" filter="url(#b4)"/>
</g>
<rect x="192.2" y="826.9" width="709.0" height="59.0" fill="none" stroke="#000" stroke-width="3.7" />
<text x="0.0" y="1074.5" font-size="36" font-weight="bold" textLength="23.3" lengthAdjust="spacingAndGlyphs" stroke="#000" stroke-width="0.8">e</text>
<text x="477.1" y="1093.6" font-size="27" font-style="italic" textLength="141.5" lengthAdjust="spacingAndGlyphs">cpl-1<tspan font-size="18" dy="-12.3">WT</tspan><tspan dy="12.3">::yfp</tspan></text>
<line x1="209.8" y1="1111.7" x2="886.1" y2="1111.7" stroke="#000" stroke-width="3.1" stroke-linecap="round" />
<line x1="209.8" y1="1158.0" x2="397.3" y2="1158.0" stroke="#000" stroke-width="3.1" stroke-linecap="round" />
<line x1="460.0" y1="1158.0" x2="646.9" y2="1158.0" stroke="#000" stroke-width="3.1" stroke-linecap="round" />
<line x1="698.9" y1="1158.0" x2="886.1" y2="1158.0" stroke="#000" stroke-width="3.1" stroke-linecap="round" />
<text x="284.5" y="1144.8" font-size="27" textLength="39.0" lengthAdjust="spacingAndGlyphs" >WT</text>
<text x="477.7" y="1144.8" font-size="27" font-style="italic" textLength="153.0" lengthAdjust="spacingAndGlyphs" >rde-1(ne219)</text>
<text x="705.4" y="1144.8" font-size="27" font-style="italic" textLength="176.0" lengthAdjust="spacingAndGlyphs" >drh-1(ok3495)</text>
<text x="0.5" y="1188.4" font-size="27" textLength="178.5" lengthAdjust="spacingAndGlyphs" >α-Amanitin (h)</text>
<text x="223.0" y="1189.8" font-size="28.5" text-anchor="middle" textLength="16.6" lengthAdjust="spacingAndGlyphs" >0</text>
<text x="265.8" y="1189.8" font-size="28.5" text-anchor="middle" textLength="16.6" lengthAdjust="spacingAndGlyphs" >4</text>
<text x="305.0" y="1189.8" font-size="28.5" text-anchor="middle" textLength="16.6" lengthAdjust="spacingAndGlyphs" >6</text>
<text x="344.0" y="1189.8" font-size="28.5" text-anchor="middle" textLength="16.6" lengthAdjust="spacingAndGlyphs" >8</text>
<text x="384.4" y="1189.8" font-size="28.5" text-anchor="middle" textLength="30.7" lengthAdjust="spacingAndGlyphs" >10</text>
<text x="463.3" y="1189.8" font-size="28.5" text-anchor="middle" textLength="16.6" lengthAdjust="spacingAndGlyphs" >0</text>
<text x="506.7" y="1189.8" font-size="28.5" text-anchor="middle" textLength="16.6" lengthAdjust="spacingAndGlyphs" >4</text>
<text x="545.9" y="1189.8" font-size="28.5" text-anchor="middle" textLength="16.6" lengthAdjust="spacingAndGlyphs" >6</text>
<text x="584.8" y="1189.8" font-size="28.5" text-anchor="middle" textLength="16.6" lengthAdjust="spacingAndGlyphs" >8</text>
<text x="624.9" y="1189.8" font-size="28.5" text-anchor="middle" textLength="30.7" lengthAdjust="spacingAndGlyphs" >10</text>
<text x="708.6" y="1189.8" font-size="28.5" text-anchor="middle" textLength="16.6" lengthAdjust="spacingAndGlyphs" >0</text>
<text x="751.7" y="1189.8" font-size="28.5" text-anchor="middle" textLength="16.6" lengthAdjust="spacingAndGlyphs" >4</text>
<text x="790.9" y="1189.8" font-size="28.5" text-anchor="middle" textLength="16.6" lengthAdjust="spacingAndGlyphs" >6</text>
<text x="829.8" y="1189.8" font-size="28.5" text-anchor="middle" textLength="16.6" lengthAdjust="spacingAndGlyphs" >8</text>
<text x="875.2" y="1189.8" font-size="28.5" text-anchor="middle" textLength="30.7" lengthAdjust="spacingAndGlyphs" >10</text>
<text x="179.0" y="1223.0" font-size="27" text-anchor="end" font-style="italic" textLength="58.0" lengthAdjust="spacingAndGlyphs" >cpl-1</text>
<text x="179.0" y="1277.1" font-size="27" text-anchor="end" textLength="120.5" lengthAdjust="spacingAndGlyphs" >28S rRNA</text>
<text x="179.0" y="1305.0" font-size="27" text-anchor="end" textLength="116.5" lengthAdjust="spacingAndGlyphs" >18S rRNA</text>
<text x="179.0" y="1365.8" font-size="27" text-anchor="end" textLength="128.5" lengthAdjust="spacingAndGlyphs" >5.8S rRNA</text>
<rect x="192.6" y="1204.0" width="710.4" height="29.8" fill="#f9f9f9" />
<g clip-path="url(#c6)">
<rect x="209.0" y="1214.5" width="27.0" height="7.0" rx="3.5" fill="#000" opacity="0.575" filter="url(#b2)"/>
<rect x="250.0" y="1214.2" width="27.0" height="7.6" rx="3.8" fill="#000" opacity="0.7474999999999999" filter="url(#b2)"/>
<rect x="290.1" y="1214.3" width="27.0" height="7.4" rx="3.7" fill="#000" opacity="0.69" filter="url(#b2)"/>
<rect x="330.5" y="1214.4" width="27.0" height="7.2" rx="3.6" fill="#000" opacity="0.6325" filter="url(#b2)"/>
<rect x="370.5" y="1214.4" width="27.0" height="7.2" rx="3.6" fill="#000" opacity="0.6325" filter="url(#b2)"/>
<rect x="453.9" y="1214.4" width="27.0" height="7.2" rx="3.6" fill="#000" opacity="0.6325" filter="url(#b2)"/>
<rect x="494.3" y="1214.3" width="27.0" height="7.4" rx="3.7" fill="#000" opacity="0.69" filter="url(#b2)"/>
<rect x="534.5" y="1213.5" width="27.0" height="9.0" rx="4.5" fill="#000" opacity="1" filter="url(#b2)"/>
<rect x="573.4" y="1213.7" width="27.0" height="8.6" rx="4.3" fill="#000" opacity="1" filter="url(#b2)"/>
<rect x="613.8" y="1214.0" width="27.0" height="8.0" rx="4.0" fill="#000" opacity="0.8624999999999999" filter="url(#b2)"/>
<rect x="696.3" y="1214.0" width="27.0" height="8.0" rx="4.0" fill="#000" opacity="0.8624999999999999" filter="url(#b2)"/>
<rect x="736.7" y="1213.6" width="27.0" height="8.8" rx="4.4" fill="#000" opacity="1" filter="url(#b2)"/>
<rect x="777.4" y="1214.0" width="27.0" height="8.0" rx="4.0" fill="#000" opacity="0.8624999999999999" filter="url(#b2)"/>
<rect x="818.7" y="1214.5" width="27.0" height="7.0" rx="3.5" fill="#000" opacity="0.575" filter="url(#b2)"/>
<rect x="858.8" y="1214.1" width="27.0" height="7.8" rx="3.9" fill="#000" opacity="0.8049999999999999" filter="url(#b2)"/>
</g>
<rect x="194.7" y="1206.0" width="706.3" height="25.7" fill="none" stroke="#000" stroke-width="4.1" />
<rect x="192.6" y="1256.0" width="710.4" height="59.2" fill="#e6e6e6" />
<g clip-path="url(#c7)">
<rect x="192" y="1256" width="712" height="60" fill="url(#ge1)"/>
<rect x="192" y="1256" width="712" height="60" fill="url(#ge2)"/>
<rect x="213.0" y="1270.3" width="20.0" height="30.9" rx="10.0" fill="#000" opacity="0.03" filter="url(#b3)"/>
<rect x="208.0" y="1270.8" width="30.0" height="5.0" rx="2.5" fill="#000" opacity="0.7150000000000001" filter="url(#b1)"/>
<rect x="208.5" y="1296.0" width="29.0" height="4.4" rx="2.2" fill="#000" opacity="0.6050000000000001" filter="url(#b1)"/>
<rect x="253.5" y="1270.3" width="20.0" height="30.9" rx="10.0" fill="#000" opacity="0.03" filter="url(#b3)"/>
<rect x="248.5" y="1270.8" width="30.0" height="5.0" rx="2.5" fill="#000" opacity="0.8800000000000001" filter="url(#b1)"/>
<rect x="249.0" y="1296.0" width="29.0" height="4.4" rx="2.2" fill="#000" opacity="0.77" filter="url(#b1)"/>
<rect x="293.6" y="1270.3" width="20.0" height="30.9" rx="10.0" fill="#000" opacity="0.03" filter="url(#b3)"/>
<rect x="288.6" y="1270.8" width="30.0" height="5.0" rx="2.5" fill="#000" opacity="0.935" filter="url(#b1)"/>
<rect x="289.1" y="1296.0" width="29.0" height="4.4" rx="2.2" fill="#000" opacity="0.8250000000000001" filter="url(#b1)"/>
<rect x="334.0" y="1270.3" width="20.0" height="30.9" rx="10.0" fill="#000" opacity="0.03" filter="url(#b3)"/>
<rect x="329.0" y="1270.8" width="30.0" height="5.0" rx="2.5" fill="#000" opacity="0.935" filter="url(#b1)"/>
<rect x="329.5" y="1296.0" width="29.0" height="4.4" rx="2.2" fill="#000" opacity="0.8250000000000001" filter="url(#b1)"/>
<rect x="374.0" y="1270.3" width="20.0" height="30.9" rx="10.0" fill="#000" opacity="0.03" filter="url(#b3)"/>
<rect x="369.0" y="1270.8" width="30.0" height="5.0" rx="2.5" fill="#000" opacity="0.9900000000000001" filter="url(#b1)"/>
<rect x="369.5" y="1296.0" width="29.0" height="4.4" rx="2.2" fill="#000" opacity="0.8250000000000001" filter="url(#b1)"/>
<rect x="456.8" y="1270.3" width="20.0" height="30.9" rx="10.0" fill="#000" opacity="0.03" filter="url(#b3)"/>
<rect x="451.8" y="1270.8" width="30.0" height="5.0" rx="2.5" fill="#000" opacity="0.9900000000000001" filter="url(#b1)"/>
<rect x="452.3" y="1296.0" width="29.0" height="4.4" rx="2.2" fill="#000" opacity="0.8800000000000001" filter="url(#b1)"/>
<rect x="496.4" y="1270.3" width="20.0" height="30.9" rx="10.0" fill="#000" opacity="0.03" filter="url(#b3)"/>
<rect x="491.4" y="1270.8" width="30.0" height="5.0" rx="2.5" fill="#000" opacity="0.935" filter="url(#b1)"/>
<rect x="491.9" y="1296.0" width="29.0" height="4.4" rx="2.2" fill="#000" opacity="0.8250000000000001" filter="url(#b1)"/>
<rect x="536.5" y="1270.3" width="20.0" height="30.9" rx="10.0" fill="#000" opacity="0.03" filter="url(#b3)"/>
<rect x="531.5" y="1270.8" width="30.0" height="5.0" rx="2.5" fill="#000" opacity="0.9900000000000001" filter="url(#b1)"/>
<rect x="532.0" y="1296.0" width="29.0" height="4.4" rx="2.2" fill="#000" opacity="0.935" filter="url(#b1)"/>
<rect x="576.9" y="1270.3" width="20.0" height="30.9" rx="10.0" fill="#000" opacity="0.03" filter="url(#b3)"/>
<rect x="571.9" y="1270.8" width="30.0" height="5.0" rx="2.5" fill="#000" opacity="0.935" filter="url(#b1)"/>
<rect x="572.4" y="1296.0" width="29.0" height="4.4" rx="2.2" fill="#000" opacity="0.8800000000000001" filter="url(#b1)"/>
<rect x="617.0" y="1270.3" width="20.0" height="30.9" rx="10.0" fill="#000" opacity="0.03" filter="url(#b3)"/>
<rect x="612.0" y="1270.8" width="30.0" height="5.0" rx="2.5" fill="#000" opacity="0.935" filter="url(#b1)"/>
<rect x="612.5" y="1296.0" width="29.0" height="4.4" rx="2.2" fill="#000" opacity="0.8250000000000001" filter="url(#b1)"/>
<rect x="699.0" y="1270.3" width="20.0" height="30.9" rx="10.0" fill="#000" opacity="0.03" filter="url(#b3)"/>
<rect x="694.0" y="1270.8" width="30.0" height="5.0" rx="2.5" fill="#000" opacity="0.9900000000000001" filter="url(#b1)"/>
<rect x="694.5" y="1296.0" width="29.0" height="4.4" rx="2.2" fill="#000" opacity="0.8800000000000001" filter="url(#b1)"/>
<rect x="738.5" y="1270.3" width="20.0" height="30.9" rx="10.0" fill="#000" opacity="0.03" filter="url(#b3)"/>
<rect x="733.5" y="1270.8" width="30.0" height="5.0" rx="2.5" fill="#000" opacity="0.935" filter="url(#b1)"/>
<rect x="734.0" y="1296.0" width="29.0" height="4.4" rx="2.2" fill="#000" opacity="0.8800000000000001" filter="url(#b1)"/>
<rect x="779.4" y="1270.3" width="20.0" height="30.9" rx="10.0" fill="#000" opacity="0.03" filter="url(#b3)"/>
<rect x="774.4" y="1270.8" width="30.0" height="5.0" rx="2.5" fill="#000" opacity="0.9900000000000001" filter="url(#b1)"/>
<rect x="774.9" y="1296.0" width="29.0" height="4.4" rx="2.2" fill="#000" opacity="0.8800000000000001" filter="url(#b1)"/>
<rect x="819.8" y="1270.3" width="20.0" height="30.9" rx="10.0" fill="#000" opacity="0.03" filter="url(#b3)"/>
<rect x="814.8" y="1270.8" width="30.0" height="5.0" rx="2.5" fill="#000" opacity="0.8800000000000001" filter="url(#b1)"/>
<rect x="815.3" y="1296.0" width="29.0" height="4.4" rx="2.2" fill="#000" opacity="0.77" filter="url(#b1)"/>
<rect x="860.0" y="1270.3" width="20.0" height="30.9" rx="10.0" fill="#000" opacity="0.03" filter="url(#b3)"/>
<rect x="855.0" y="1270.8" width="30.0" height="5.0" rx="2.5" fill="#000" opacity="0.935" filter="url(#b1)"/>
<rect x="855.5" y="1296.0" width="29.0" height="4.4" rx="2.2" fill="#000" opacity="0.8250000000000001" filter="url(#b1)"/>
</g>
<rect x="194.7" y="1258.0" width="706.3" height="55.1" fill="none" stroke="#000" stroke-width="4.1" />
<rect x="192.6" y="1329.8" width="710.4" height="60.0" fill="#f6f6f6" />
<g clip-path="url(#c8)">
<rect x="218.7" y="1347.0" width="186.3" height="30.0" rx="15.0" fill="#000" opacity="0.22" filter="url(#b5)"/>
<rect x="223.7" y="1352.0" width="176.3" height="20.0" rx="10.0" fill="#000" opacity="0.6" filter="url(#b4)"/>
<rect x="217.3" y="1354.5" width="32.0" height="17.0" rx="8.5" fill="#000" opacity="0.75" filter="url(#b4)"/>
<rect x="256.6" y="1354.5" width="32.0" height="17.0" rx="8.5" fill="#000" opacity="0.75" filter="url(#b4)"/>
<rect x="295.9" y="1354.5" width="32.0" height="17.0" rx="8.5" fill="#000" opacity="0.7" filter="url(#b4)"/>
<rect x="335.1" y="1354.5" width="32.0" height="17.0" rx="8.5" fill="#000" opacity="0.8" filter="url(#b4)"/>
<rect x="374.4" y="1354.5" width="32.0" height="17.0" rx="8.5" fill="#000" opacity="0.85" filter="url(#b4)"/>
<rect x="450.0" y="1347.0" width="190.4" height="30.0" rx="15.0" fill="#000" opacity="0.22" filter="url(#b5)"/>
<rect x="455.0" y="1352.0" width="180.4" height="20.0" rx="10.0" fill="#000" opacity="0.6" filter="url(#b4)"/>
<rect x="449.0" y="1354.5" width="32.0" height="17.0" rx="8.5" fill="#000" opacity="0.6" filter="url(#b4)"/>
<rect x="489.1" y="1354.5" width="32.0" height="17.0" rx="8.5" fill="#000" opacity="0.5" filter="url(#b4)"/>
<rect x="529.2" y="1354.5" width="32.0" height="17.0" rx="8.5" fill="#000" opacity="0.55" filter="url(#b4)"/>
<rect x="569.3" y="1354.5" width="32.0" height="17.0" rx="8.5" fill="#000" opacity="0.55" filter="url(#b4)"/>
<rect x="609.4" y="1354.5" width="32.0" height="17.0" rx="8.5" fill="#000" opacity="0.55" filter="url(#b4)"/>
<rect x="682.6" y="1347.0" width="192.0" height="30.0" rx="15.0" fill="#000" opacity="0.22" filter="url(#b5)"/>
<rect x="687.6" y="1352.0" width="182.0" height="20.0" rx="10.0" fill="#000" opacity="0.6" filter="url(#b4)"/>
<rect x="681.8" y="1354.5" width="32.0" height="17.0" rx="8.5" fill="#000" opacity="0.55" filter="url(#b4)"/>
<rect x="722.2" y="1354.5" width="32.0" height="17.0" rx="8.5" fill="#000" opacity="0.55" filter="url(#b4)"/>
<rect x="762.6" y="1354.5" width="32.0" height="17.0" rx="8.5" fill="#000" opacity="0.5" filter="url(#b4)"/>
<rect x="803.0" y="1354.5" width="32.0" height="17.0" rx="8.5" fill="#000" opacity="0.5" filter="url(#b4)"/>
<rect x="843.4" y="1354.5" width="32.0" height="17.0" rx="8.5" fill="#000" opacity="0.6" filter="url(#b4)"/>
</g>
<rect x="194.7" y="1331.8" width="706.3" height="55.9" fill="none" stroke="#000" stroke-width="4.1" />
<text x="1030.0" y="563.5" font-size="36" font-weight="bold" textLength="24.0" lengthAdjust="spacingAndGlyphs" stroke="#000" stroke-width="0.8">d</text>
<line x1="1162.6" y1="569.0" x2="1162.6" y2="906.0" stroke="#2a2a2a" stroke-width="1.25" stroke-linecap="butt" />
<line x1="1147.6" y1="569.6" x2="1162.6" y2="569.6" stroke="#2a2a2a" stroke-width="1.25" stroke-linecap="butt" />
<line x1="1147.6" y1="681.3" x2="1162.6" y2="681.3" stroke="#2a2a2a" stroke-width="1.25" stroke-linecap="butt" />
<line x1="1147.6" y1="792.9" x2="1162.6" y2="792.9" stroke="#2a2a2a" stroke-width="1.25" stroke-linecap="butt" />
<line x1="1147.6" y1="905.4" x2="1162.6" y2="905.4" stroke="#2a2a2a" stroke-width="1.25" stroke-linecap="butt" />
<line x1="1147.6" y1="905.4" x2="1498.3" y2="905.4" stroke="#2a2a2a" stroke-width="1.25" stroke-linecap="butt" />
<line x1="1162.6" y1="905.4" x2="1162.6" y2="920.1" stroke="#2a2a2a" stroke-width="1.25" stroke-linecap="butt" />
<line x1="1229.7" y1="905.4" x2="1229.7" y2="920.1" stroke="#2a2a2a" stroke-width="1.25" stroke-linecap="butt" />
<line x1="1296.9" y1="905.4" x2="1296.9" y2="920.1" stroke="#2a2a2a" stroke-width="1.25" stroke-linecap="butt" />
<line x1="1364.0" y1="905.4" x2="1364.0" y2="920.1" stroke="#2a2a2a" stroke-width="1.25" stroke-linecap="butt" />
<line x1="1431.2" y1="905.4" x2="1431.2" y2="920.1" stroke="#2a2a2a" stroke-width="1.25" stroke-linecap="butt" />
<line x1="1498.3" y1="905.4" x2="1498.3" y2="920.1" stroke="#2a2a2a" stroke-width="1.25" stroke-linecap="butt" />
<text x="1135.5" y="578.0" font-size="25" text-anchor="end" textLength="30.4" lengthAdjust="spacingAndGlyphs" >1.5</text>
<text x="1135.5" y="689.7" font-size="25" text-anchor="end" textLength="30.4" lengthAdjust="spacingAndGlyphs" >1.0</text>
<text x="1135.5" y="801.3" font-size="25" text-anchor="end" textLength="33.7" lengthAdjust="spacingAndGlyphs" >0.5</text>
<text x="1135.5" y="913.8" font-size="25" text-anchor="end" textLength="13.5" lengthAdjust="spacingAndGlyphs" >0</text>
<text x="1162.6" y="950.5" font-size="25" text-anchor="middle" textLength="13.5" lengthAdjust="spacingAndGlyphs" >0</text>
<text x="1229.7" y="950.5" font-size="25" text-anchor="middle" textLength="13.5" lengthAdjust="spacingAndGlyphs" >2</text>
<text x="1296.9" y="950.5" font-size="25" text-anchor="middle" textLength="13.5" lengthAdjust="spacingAndGlyphs" >4</text>
<text x="1364.0" y="950.5" font-size="25" text-anchor="middle" textLength="13.5" lengthAdjust="spacingAndGlyphs" >6</text>
<text x="1431.2" y="950.5" font-size="25" text-anchor="middle" textLength="13.5" lengthAdjust="spacingAndGlyphs" >8</text>
<text x="1498.3" y="950.5" font-size="25" text-anchor="middle" ></text>
<text x="1505.0" y="950.5" font-size="25" text-anchor="middle" textLength="26.4" lengthAdjust="spacingAndGlyphs" >10</text>
<text x="1246.8" y="992.9" font-size="27" textLength="170.5" lengthAdjust="spacingAndGlyphs" >α-Amanitin (h)</text>
<text x="1079.4" y="738.6" font-size="27" text-anchor="middle" textLength="316" lengthAdjust="spacingAndGlyphs" transform="rotate(-90 1079.4 738.6)">Relative <tspan font-style="italic">cpl-1</tspan> mRNA level</text>
<polyline points="1163.1,681.3 1297.0,711.8 1364.0,681.9 1431.3,720.9 1498.3,767.5" fill="none" stroke="#662d91" stroke-width="2.6" stroke-linejoin="round"/>
<line x1="1297.0" y1="678.6" x2="1297.0" y2="743.1" stroke="#000" stroke-width="2.8" stroke-linecap="butt" />
<line x1="1291.4" y1="678.6" x2="1302.6" y2="678.6" stroke="#000" stroke-width="2.8" stroke-linecap="round" />
<line x1="1291.4" y1="743.1" x2="1302.6" y2="743.1" stroke="#000" stroke-width="2.8" stroke-linecap="round" />
<line x1="1364.0" y1="640.2" x2="1364.0" y2="724.2" stroke="#000" stroke-width="2.8" stroke-linecap="butt" />
<line x1="1358.4" y1="640.2" x2="1369.6" y2="640.2" stroke="#000" stroke-width="2.8" stroke-linecap="round" />
<line x1="1358.4" y1="724.2" x2="1369.6" y2="724.2" stroke="#000" stroke-width="2.8" stroke-linecap="round" />
<line x1="1431.3" y1="675.5" x2="1431.3" y2="765.0" stroke="#000" stroke-width="2.8" stroke-linecap="butt" />
<line x1="1425.7" y1="675.5" x2="1436.9" y2="675.5" stroke="#000" stroke-width="2.8" stroke-linecap="round" />
<line x1="1425.7" y1="765.0" x2="1436.9" y2="765.0" stroke="#000" stroke-width="2.8" stroke-linecap="round" />
<line x1="1498.3" y1="730.9" x2="1498.3" y2="804.5" stroke="#000" stroke-width="2.8" stroke-linecap="butt" />
<line x1="1492.7" y1="730.9" x2="1503.9" y2="730.9" stroke="#000" stroke-width="2.8" stroke-linecap="round" />
<line x1="1492.7" y1="804.5" x2="1503.9" y2="804.5" stroke="#000" stroke-width="2.8" stroke-linecap="round" />
<circle cx="1163.1" cy="681.3" r="5.75" fill="#662d91"/>
<circle cx="1297.0" cy="711.8" r="5.75" fill="#662d91"/>
<circle cx="1364.0" cy="681.9" r="5.75" fill="#662d91"/>
<circle cx="1431.3" cy="720.9" r="5.75" fill="#662d91"/>
<circle cx="1498.3" cy="767.5" r="5.75" fill="#662d91"/>
<polyline points="1163.1,681.3 1297.0,648.7 1364.0,661.5 1431.3,666.4 1498.3,726.7" fill="none" stroke="#0aa89c" stroke-width="2.6" stroke-linejoin="round"/>
<line x1="1297.0" y1="591.5" x2="1297.0" y2="707.5" stroke="#000" stroke-width="2.8" stroke-linecap="butt" />
<line x1="1291.4" y1="591.5" x2="1302.6" y2="591.5" stroke="#000" stroke-width="2.8" stroke-linecap="round" />
<line x1="1291.4" y1="707.5" x2="1302.6" y2="707.5" stroke="#000" stroke-width="2.8" stroke-linecap="round" />
<line x1="1364.0" y1="618.3" x2="1364.0" y2="704.7" stroke="#000" stroke-width="2.8" stroke-linecap="butt" />
<line x1="1358.4" y1="618.3" x2="1369.6" y2="618.3" stroke="#000" stroke-width="2.8" stroke-linecap="round" />
<line x1="1358.4" y1="704.7" x2="1369.6" y2="704.7" stroke="#000" stroke-width="2.8" stroke-linecap="round" />
<line x1="1431.3" y1="616.2" x2="1431.3" y2="716.3" stroke="#000" stroke-width="2.8" stroke-linecap="butt" />
<line x1="1425.7" y1="616.2" x2="1436.9" y2="616.2" stroke="#000" stroke-width="2.8" stroke-linecap="round" />
<line x1="1425.7" y1="716.3" x2="1436.9" y2="716.3" stroke="#000" stroke-width="2.8" stroke-linecap="round" />
<line x1="1498.3" y1="695.3" x2="1498.3" y2="757.7" stroke="#000" stroke-width="2.8" stroke-linecap="butt" />
<line x1="1492.7" y1="695.3" x2="1503.9" y2="695.3" stroke="#000" stroke-width="2.8" stroke-linecap="round" />
<line x1="1492.7" y1="757.7" x2="1503.9" y2="757.7" stroke="#000" stroke-width="2.8" stroke-linecap="round" />
<circle cx="1163.1" cy="681.3" r="5.75" fill="#0aa89c"/>
<circle cx="1297.0" cy="648.7" r="5.75" fill="#0aa89c"/>
<circle cx="1364.0" cy="661.5" r="5.75" fill="#0aa89c"/>
<circle cx="1431.3" cy="666.4" r="5.75" fill="#0aa89c"/>
<circle cx="1498.3" cy="726.7" r="5.75" fill="#0aa89c"/>
<polyline points="1163.1,681.3 1297.0,717.2 1364.0,809.6 1431.3,836.7 1498.3,830.0" fill="none" stroke="#000" stroke-width="2.6" stroke-linejoin="round"/>
<line x1="1297.0" y1="650.3" x2="1297.0" y2="786.7" stroke="#000" stroke-width="2.8" stroke-linecap="butt" />
<line x1="1291.4" y1="650.3" x2="1302.6" y2="650.3" stroke="#000" stroke-width="2.8" stroke-linecap="round" />
<line x1="1291.4" y1="786.7" x2="1302.6" y2="786.7" stroke="#000" stroke-width="2.8" stroke-linecap="round" />
<line x1="1364.0" y1="792.9" x2="1364.0" y2="826.4" stroke="#000" stroke-width="2.8" stroke-linecap="butt" />
<line x1="1358.4" y1="792.9" x2="1369.6" y2="792.9" stroke="#000" stroke-width="2.8" stroke-linecap="round" />
<line x1="1358.4" y1="826.4" x2="1369.6" y2="826.4" stroke="#000" stroke-width="2.8" stroke-linecap="round" />
<line x1="1431.3" y1="824.0" x2="1431.3" y2="850.1" stroke="#000" stroke-width="2.8" stroke-linecap="butt" />
<line x1="1425.7" y1="824.0" x2="1436.9" y2="824.0" stroke="#000" stroke-width="2.8" stroke-linecap="round" />
<line x1="1425.7" y1="850.1" x2="1436.9" y2="850.1" stroke="#000" stroke-width="2.8" stroke-linecap="round" />
<line x1="1498.3" y1="822.5" x2="1498.3" y2="836.4" stroke="#000" stroke-width="2.8" stroke-linecap="butt" />
<line x1="1492.7" y1="822.5" x2="1503.9" y2="822.5" stroke="#000" stroke-width="2.8" stroke-linecap="round" />
<line x1="1492.7" y1="836.4" x2="1503.9" y2="836.4" stroke="#000" stroke-width="2.8" stroke-linecap="round" />
<circle cx="1163.1" cy="681.3" r="5.75" fill="#000"/>
<circle cx="1297.0" cy="717.2" r="5.75" fill="#000"/>
<circle cx="1364.0" cy="809.6" r="5.75" fill="#000"/>
<circle cx="1431.3" cy="836.7" r="5.75" fill="#000"/>
<circle cx="1498.3" cy="830.0" r="5.75" fill="#000"/>
<text x="1364.0" y="581.8" font-size="19.3" text-anchor="middle" textLength="49.1" lengthAdjust="spacingAndGlyphs" >0.015</text>
<text x="1364.0" y="613.3" font-size="33" text-anchor="middle" stroke="#000" stroke-width="0.3">*</text>
<text x="1431.0" y="581.8" font-size="19.3" text-anchor="middle" textLength="53.1" lengthAdjust="spacingAndGlyphs" >0.005</text>
<text x="1431.0" y="612.9" font-size="33" text-anchor="middle" stroke="#000" stroke-width="0.3" letter-spacing="1.7" dx="0.85">**</text>
<text x="1497.7" y="581.8" font-size="19.3" text-anchor="middle" textLength="49.1" lengthAdjust="spacingAndGlyphs" >0.108</text>
<text x="1497.7" y="599.4" font-size="18" text-anchor="middle" textLength="25.0" lengthAdjust="spacingAndGlyphs" >NS</text>
<text x="1364.0" y="750.7" font-size="19.3" text-anchor="middle" textLength="53.1" lengthAdjust="spacingAndGlyphs" >0.020</text>
<text x="1364.0" y="779.7" font-size="33" text-anchor="middle" stroke="#000" stroke-width="0.3">*</text>
<text x="1431.3" y="784.4" font-size="19.3" text-anchor="middle" textLength="53.1" lengthAdjust="spacingAndGlyphs" >0.032</text>
<text x="1431.3" y="814.3" font-size="33" text-anchor="middle" stroke="#000" stroke-width="0.3">*</text>
<text x="1506.2" y="784.4" font-size="19.3" textLength="53.1" lengthAdjust="spacingAndGlyphs" >0.244</text>
<text x="1520.8" y="802.0" font-size="18" textLength="25.0" lengthAdjust="spacingAndGlyphs" >NS</text>
<text x="1642.7" y="577.9" font-size="27" font-style="italic" textLength="125.0" lengthAdjust="spacingAndGlyphs" >cpl-1*::yfp</text>
<line x1="1584.5" y1="597.7" x2="1832.0" y2="597.7" stroke="#000" stroke-width="3" stroke-linecap="round" />
<line x1="1592.0" y1="625.6" x2="1617.3" y2="625.6" stroke="#000" stroke-width="3.6" stroke-linecap="round" />
<text x="1626.3" y="635.2" font-size="27" textLength="38.5" lengthAdjust="spacingAndGlyphs" >WT</text>
<line x1="1592.0" y1="664.5" x2="1617.3" y2="664.5" stroke="#0aa89c" stroke-width="3.6" stroke-linecap="round" />
<text x="1630.5" y="672.1" font-size="27" font-style="italic" textLength="152.0" lengthAdjust="spacingAndGlyphs" >rde-1(ne219)</text>
<line x1="1592.0" y1="703.8" x2="1617.3" y2="703.8" stroke="#662d91" stroke-width="3.6" stroke-linecap="round" />
<text x="1626.3" y="711.0" font-size="27" font-style="italic" textLength="174.0" lengthAdjust="spacingAndGlyphs" >drh-1(ok3495)</text>
<text x="1029.0" y="1072.5" font-size="36" font-weight="bold" textLength="15.5" lengthAdjust="spacingAndGlyphs" stroke="#000" stroke-width="0.8">f</text>
<line x1="1162.2" y1="1079.0" x2="1162.2" y2="1416.7" stroke="#6e6e6e" stroke-width="2" stroke-linecap="butt" />
<line x1="1147.2" y1="1079.6" x2="1162.2" y2="1079.6" stroke="#2a2a2a" stroke-width="1.25" stroke-linecap="butt" />
<line x1="1147.2" y1="1191.6" x2="1162.2" y2="1191.6" stroke="#2a2a2a" stroke-width="1.25" stroke-linecap="butt" />
<line x1="1147.2" y1="1304.1" x2="1162.2" y2="1304.1" stroke="#2a2a2a" stroke-width="1.25" stroke-linecap="butt" />
<line x1="1147.2" y1="1416.1" x2="1162.2" y2="1416.1" stroke="#2a2a2a" stroke-width="1.25" stroke-linecap="butt" />
<line x1="1147.2" y1="1416.1" x2="1498.6" y2="1416.1" stroke="#2a2a2a" stroke-width="1.25" stroke-linecap="butt" />
<line x1="1162.2" y1="1416.1" x2="1162.2" y2="1430.8" stroke="#2a2a2a" stroke-width="1.25" stroke-linecap="butt" />
<line x1="1229.2" y1="1416.1" x2="1229.2" y2="1430.8" stroke="#2a2a2a" stroke-width="1.25" stroke-linecap="butt" />
<line x1="1296.4" y1="1416.1" x2="1296.4" y2="1430.8" stroke="#2a2a2a" stroke-width="1.25" stroke-linecap="butt" />
<line x1="1363.7" y1="1416.1" x2="1363.7" y2="1430.8" stroke="#2a2a2a" stroke-width="1.25" stroke-linecap="butt" />
<line x1="1431.3" y1="1416.1" x2="1431.3" y2="1430.8" stroke="#2a2a2a" stroke-width="1.25" stroke-linecap="butt" />
<line x1="1498.6" y1="1416.1" x2="1498.6" y2="1430.8" stroke="#2a2a2a" stroke-width="1.25" stroke-linecap="butt" />
<text x="1134.5" y="1088.4" font-size="25" text-anchor="end" textLength="30.4" lengthAdjust="spacingAndGlyphs" >1.5</text>
<text x="1134.5" y="1200.4" font-size="25" text-anchor="end" textLength="30.4" lengthAdjust="spacingAndGlyphs" >1.0</text>
<text x="1134.5" y="1312.9" font-size="25" text-anchor="end" textLength="33.7" lengthAdjust="spacingAndGlyphs" >0.5</text>
<text x="1134.5" y="1424.9" font-size="25" text-anchor="end" textLength="13.5" lengthAdjust="spacingAndGlyphs" >0</text>
<text x="1162.2" y="1461.8" font-size="25" text-anchor="middle" textLength="13.5" lengthAdjust="spacingAndGlyphs" >0</text>
<text x="1229.2" y="1461.8" font-size="25" text-anchor="middle" textLength="13.5" lengthAdjust="spacingAndGlyphs" >2</text>
<text x="1296.4" y="1461.8" font-size="25" text-anchor="middle" textLength="13.5" lengthAdjust="spacingAndGlyphs" >4</text>
<text x="1363.7" y="1461.8" font-size="25" text-anchor="middle" textLength="13.5" lengthAdjust="spacingAndGlyphs" >6</text>
<text x="1431.3" y="1461.8" font-size="25" text-anchor="middle" textLength="13.5" lengthAdjust="spacingAndGlyphs" >8</text>
<text x="1498.6" y="1461.8" font-size="25" text-anchor="middle" textLength="27.0" lengthAdjust="spacingAndGlyphs" >10</text>
<text x="1245.9" y="1503.8" font-size="27" textLength="169.0" lengthAdjust="spacingAndGlyphs" >α-Amanitin (h)</text>
<text x="1079.4" y="1252.5" font-size="27" text-anchor="middle" textLength="307" lengthAdjust="spacingAndGlyphs" transform="rotate(-90 1079.4 1252.5)">Relative <tspan font-style="italic">cpl-1</tspan> mRNA level</text>
<polyline points="1162.2,1191.6 1296.4,1204.4 1363.7,1207.1 1431.3,1243.7 1498.6,1245.2" fill="none" stroke="#662d91" stroke-width="2.6" stroke-linejoin="round"/>
<line x1="1296.4" y1="1167.6" x2="1296.4" y2="1241.2" stroke="#000" stroke-width="2.8" stroke-linecap="butt" />
<line x1="1290.8" y1="1167.6" x2="1302.0" y2="1167.6" stroke="#000" stroke-width="2.8" stroke-linecap="round" />
<line x1="1290.8" y1="1241.2" x2="1302.0" y2="1241.2" stroke="#000" stroke-width="2.8" stroke-linecap="round" />
<line x1="1363.7" y1="1196.0" x2="1363.7" y2="1218.1" stroke="#000" stroke-width="2.8" stroke-linecap="butt" />
<line x1="1358.1" y1="1196.0" x2="1369.3" y2="1196.0" stroke="#000" stroke-width="2.8" stroke-linecap="round" />
<line x1="1358.1" y1="1218.1" x2="1369.3" y2="1218.1" stroke="#000" stroke-width="2.8" stroke-linecap="round" />
<line x1="1431.3" y1="1212.0" x2="1431.3" y2="1275.3" stroke="#000" stroke-width="2.8" stroke-linecap="butt" />
<line x1="1425.7" y1="1212.0" x2="1436.9" y2="1212.0" stroke="#000" stroke-width="2.8" stroke-linecap="round" />
<line x1="1425.7" y1="1275.3" x2="1436.9" y2="1275.3" stroke="#000" stroke-width="2.8" stroke-linecap="round" />
<line x1="1498.6" y1="1205.9" x2="1498.6" y2="1284.5" stroke="#000" stroke-width="2.8" stroke-linecap="butt" />
<line x1="1493.0" y1="1205.9" x2="1504.2" y2="1205.9" stroke="#000" stroke-width="2.8" stroke-linecap="round" />
<line x1="1493.0" y1="1284.5" x2="1504.2" y2="1284.5" stroke="#000" stroke-width="2.8" stroke-linecap="round" />
<circle cx="1162.2" cy="1191.6" r="5.75" fill="#662d91"/>
<circle cx="1296.4" cy="1204.4" r="5.75" fill="#662d91"/>
<circle cx="1363.7" cy="1207.1" r="5.75" fill="#662d91"/>
<circle cx="1431.3" cy="1243.7" r="5.75" fill="#662d91"/>
<circle cx="1498.6" cy="1245.2" r="5.75" fill="#662d91"/>
<polyline points="1162.2,1191.6 1296.4,1184.0 1363.7,1152.6 1431.3,1174.0 1498.6,1179.7" fill="none" stroke="#0aa89c" stroke-width="2.6" stroke-linejoin="round"/>
<line x1="1296.4" y1="1161.8" x2="1296.4" y2="1206.0" stroke="#000" stroke-width="2.8" stroke-linecap="butt" />
<line x1="1290.8" y1="1161.8" x2="1302.0" y2="1161.8" stroke="#000" stroke-width="2.8" stroke-linecap="round" />
<line x1="1290.8" y1="1206.0" x2="1302.0" y2="1206.0" stroke="#000" stroke-width="2.8" stroke-linecap="round" />
<line x1="1363.7" y1="1107.6" x2="1363.7" y2="1197.6" stroke="#000" stroke-width="2.8" stroke-linecap="butt" />
<line x1="1358.1" y1="1107.6" x2="1369.3" y2="1107.6" stroke="#000" stroke-width="2.8" stroke-linecap="round" />
<line x1="1358.1" y1="1197.6" x2="1369.3" y2="1197.6" stroke="#000" stroke-width="2.8" stroke-linecap="round" />
<line x1="1431.3" y1="1142.9" x2="1431.3" y2="1205.0" stroke="#000" stroke-width="2.8" stroke-linecap="butt" />
<line x1="1425.7" y1="1142.9" x2="1436.9" y2="1142.9" stroke="#000" stroke-width="2.8" stroke-linecap="round" />
<line x1="1425.7" y1="1205.0" x2="1436.9" y2="1205.0" stroke="#000" stroke-width="2.8" stroke-linecap="round" />
<line x1="1498.6" y1="1153.3" x2="1498.6" y2="1205.9" stroke="#000" stroke-width="2.8" stroke-linecap="butt" />
<line x1="1493.0" y1="1153.3" x2="1504.2" y2="1153.3" stroke="#000" stroke-width="2.8" stroke-linecap="round" />
<line x1="1493.0" y1="1205.9" x2="1504.2" y2="1205.9" stroke="#000" stroke-width="2.8" stroke-linecap="round" />
<circle cx="1162.2" cy="1191.6" r="5.75" fill="#0aa89c"/>
<circle cx="1296.4" cy="1184.0" r="5.75" fill="#0aa89c"/>
<circle cx="1363.7" cy="1152.6" r="5.75" fill="#0aa89c"/>
<circle cx="1431.3" cy="1174.0" r="5.75" fill="#0aa89c"/>
<circle cx="1498.6" cy="1179.7" r="5.75" fill="#0aa89c"/>
<polyline points="1162.2,1191.6 1296.4,1215.1 1363.7,1193.1 1431.3,1193.1 1498.6,1214.5" fill="none" stroke="#000" stroke-width="2.6" stroke-linejoin="round"/>
<line x1="1296.4" y1="1166.3" x2="1296.4" y2="1264.4" stroke="#000" stroke-width="2.8" stroke-linecap="butt" />
<line x1="1290.8" y1="1166.3" x2="1302.0" y2="1166.3" stroke="#000" stroke-width="2.8" stroke-linecap="round" />
<line x1="1290.8" y1="1264.4" x2="1302.0" y2="1264.4" stroke="#000" stroke-width="2.8" stroke-linecap="round" />
<line x1="1363.7" y1="1187.0" x2="1363.7" y2="1199.0" stroke="#000" stroke-width="2.8" stroke-linecap="butt" />
<line x1="1358.1" y1="1187.0" x2="1369.3" y2="1187.0" stroke="#000" stroke-width="2.8" stroke-linecap="round" />
<line x1="1358.1" y1="1199.0" x2="1369.3" y2="1199.0" stroke="#000" stroke-width="2.8" stroke-linecap="round" />
<line x1="1431.3" y1="1168.5" x2="1431.3" y2="1218.1" stroke="#000" stroke-width="2.8" stroke-linecap="butt" />
<line x1="1425.7" y1="1168.5" x2="1436.9" y2="1168.5" stroke="#000" stroke-width="2.8" stroke-linecap="round" />
<line x1="1425.7" y1="1218.1" x2="1436.9" y2="1218.1" stroke="#000" stroke-width="2.8" stroke-linecap="round" />
<line x1="1498.6" y1="1206.3" x2="1498.6" y2="1222.7" stroke="#000" stroke-width="2.8" stroke-linecap="butt" />
<line x1="1493.0" y1="1206.3" x2="1504.2" y2="1206.3" stroke="#000" stroke-width="2.8" stroke-linecap="round" />
<line x1="1493.0" y1="1222.7" x2="1504.2" y2="1222.7" stroke="#000" stroke-width="2.8" stroke-linecap="round" />
<circle cx="1162.2" cy="1191.6" r="5.75" fill="#000"/>
<circle cx="1296.4" cy="1215.1" r="5.75" fill="#000"/>
<circle cx="1363.7" cy="1193.1" r="5.75" fill="#000"/>
<circle cx="1431.3" cy="1193.1" r="5.75" fill="#000"/>
<circle cx="1498.6" cy="1214.5" r="5.75" fill="#000"/>
<text x="1292.5" y="1119.8" font-size="19.3" text-anchor="middle" textLength="41.3" lengthAdjust="spacingAndGlyphs" >0.68</text>
<text x="1292.5" y="1136.8" font-size="18" text-anchor="middle" textLength="25.0" lengthAdjust="spacingAndGlyphs" >NS</text>
<text x="1361.6" y="1081.7" font-size="19.3" text-anchor="middle" textLength="41.3" lengthAdjust="spacingAndGlyphs" >0.53</text>
<text x="1361.6" y="1098.5" font-size="18" text-anchor="middle" textLength="25.0" lengthAdjust="spacingAndGlyphs" >NS</text>
<text x="1426.7" y="1100.9" font-size="19.3" text-anchor="middle" textLength="41.3" lengthAdjust="spacingAndGlyphs" >0.86</text>
<text x="1426.7" y="1117.6" font-size="18" text-anchor="middle" textLength="25.0" lengthAdjust="spacingAndGlyphs" >NS</text>
<text x="1496.5" y="1110.6" font-size="19.3" text-anchor="middle" textLength="41.3" lengthAdjust="spacingAndGlyphs" >0.62</text>
<text x="1496.5" y="1127.4" font-size="18" text-anchor="middle" textLength="25.0" lengthAdjust="spacingAndGlyphs" >NS</text>
<text x="1363.4" y="1258.6" font-size="19.3" text-anchor="middle" textLength="41.3" lengthAdjust="spacingAndGlyphs" >0.92</text>
<text x="1363.4" y="1275.3" font-size="18" text-anchor="middle" textLength="25.0" lengthAdjust="spacingAndGlyphs" >NS</text>
<text x="1292.5" y="1287.0" font-size="19.3" text-anchor="middle" textLength="41.3" lengthAdjust="spacingAndGlyphs" >0.95</text>
<text x="1292.5" y="1303.6" font-size="18" text-anchor="middle" textLength="25.0" lengthAdjust="spacingAndGlyphs" >NS</text>
<text x="1428.0" y="1305.9" font-size="19.3" text-anchor="middle" textLength="41.3" lengthAdjust="spacingAndGlyphs" >0.37</text>
<text x="1428.0" y="1323.3" font-size="18" text-anchor="middle" textLength="25.0" lengthAdjust="spacingAndGlyphs" >NS</text>
<text x="1497.4" y="1305.9" font-size="19.3" text-anchor="middle" textLength="41.3" lengthAdjust="spacingAndGlyphs" >0.68</text>
<text x="1497.4" y="1323.3" font-size="18" text-anchor="middle" textLength="25.0" lengthAdjust="spacingAndGlyphs" >NS</text>
<text x="1634.8" y="1066" font-size="27" font-style="italic" textLength="141" lengthAdjust="spacingAndGlyphs">cpl-1<tspan font-size="18" dy="-12.3">WT</tspan><tspan dy="12.3">::yfp</tspan></text>
<line x1="1584.5" y1="1084.1" x2="1832.0" y2="1084.1" stroke="#000" stroke-width="3" stroke-linecap="round" />
<line x1="1583.3" y1="1116.0" x2="1609.6" y2="1116.0" stroke="#000" stroke-width="3.6" stroke-linecap="round" />
<text x="1626.3" y="1122.2" font-size="27" textLength="38.5" lengthAdjust="spacingAndGlyphs" >WT</text>
<line x1="1583.3" y1="1152.2" x2="1609.6" y2="1152.2" stroke="#0aa89c" stroke-width="3.6" stroke-linecap="round" />
<text x="1626.3" y="1158.6" font-size="27" font-style="italic" textLength="152.0" lengthAdjust="spacingAndGlyphs" >rde-1(ne219)</text>
<line x1="1583.3" y1="1190.7" x2="1609.6" y2="1190.7" stroke="#662d91" stroke-width="3.6" stroke-linecap="round" />
<text x="1626.3" y="1197.2" font-size="27" font-style="italic" textLength="174.0" lengthAdjust="spacingAndGlyphs" >drh-1(ok3495)</text>
<text x="-0.6" y="1559.3" font-size="36" font-weight="bold" textLength="26.0" lengthAdjust="spacingAndGlyphs" stroke="#000" stroke-width="0.8">g</text>
<text x="259.4" y="1587.8" font-size="27" font-style="italic" textLength="132.5" lengthAdjust="spacingAndGlyphs" >Plys-3::gfp</text>
<line x1="142.5" y1="1608.2" x2="490.8" y2="1608.2" stroke="#000" stroke-width="2.5" stroke-linecap="butt" />
<text x="180.5" y="1648.7" font-size="27" text-anchor="end" font-style="italic" textLength="151.5" lengthAdjust="spacingAndGlyphs" >rde-1(ne219)</text>
<text x="180.5" y="1685.9" font-size="27" text-anchor="end" font-style="italic" textLength="175.0" lengthAdjust="spacingAndGlyphs" >drh-1(ok3495)</text>
<text x="180.5" y="1723.3" font-size="27" text-anchor="end" font-style="italic" textLength="157.5" lengthAdjust="spacingAndGlyphs" >sel-11(nDf59)</text>
<circle cx="211.9" cy="1644.2" r="11" fill="#fff" stroke="#000" stroke-width="3"/>
<circle cx="291.4" cy="1644.2" r="11" fill="#0aa89c" stroke="#000" stroke-width="3"/>
<circle cx="371.4" cy="1644.2" r="11" fill="#fff" stroke="#000" stroke-width="3"/>
<circle cx="451.2" cy="1644.2" r="11" fill="#fff" stroke="#000" stroke-width="3"/>
<circle cx="211.9" cy="1681.3" r="11" fill="#fff" stroke="#000" stroke-width="3"/>
<circle cx="291.4" cy="1681.3" r="11" fill="#fff" stroke="#000" stroke-width="3"/>
<circle cx="371.4" cy="1681.3" r="11" fill="#662d91" stroke="#000" stroke-width="3"/>
<circle cx="451.2" cy="1681.3" r="11" fill="#fff" stroke="#000" stroke-width="3"/>
<circle cx="211.9" cy="1718.5" r="11" fill="#fff" stroke="#000" stroke-width="3"/>
<circle cx="291.4" cy="1718.5" r="11" fill="#fff" stroke="#000" stroke-width="3"/>
<circle cx="371.4" cy="1718.5" r="11" fill="#fff" stroke="#000" stroke-width="3"/>
<circle cx="451.2" cy="1718.5" r="11" fill="#000" stroke="#000" stroke-width="3"/>
<text x="319.1" y="1762.9" font-size="19.3" text-anchor="middle" textLength="53.1" lengthAdjust="spacingAndGlyphs" >0.002</text>
<path d="M206.1 1783.0V1772.6H442.1V1783.0" fill="none" stroke="#000" stroke-width="2.8" stroke-linejoin="round" stroke-linecap="round"/>
<text x="319.7" y="1801.8" font-size="33" text-anchor="middle" stroke="#000" stroke-width="0.3" letter-spacing="1.7" dx="0.85">**</text>
<text x="283.8" y="1815.9" font-size="19.3" text-anchor="middle" textLength="59.6" lengthAdjust="spacingAndGlyphs" >&lt;0.001</text>
<path d="M206.1 1835.5V1825.1H364.1V1835.5" fill="none" stroke="#000" stroke-width="2.8" stroke-linejoin="round" stroke-linecap="round"/>
<text x="285.3" y="1854.7" font-size="33" text-anchor="middle" stroke="#000" stroke-width="0.3" letter-spacing="1.7" dx="0.85">***</text>
<text x="244.2" y="1870.4" font-size="19.3" text-anchor="middle" textLength="59.6" lengthAdjust="spacingAndGlyphs" >&lt;0.001</text>
<path d="M206.1 1888.4V1878.0H285.3V1888.4" fill="none" stroke="#000" stroke-width="2.8" stroke-linejoin="round" stroke-linecap="round"/>
<text x="245.1" y="1908.6" font-size="33" text-anchor="middle" stroke="#000" stroke-width="0.3" letter-spacing="1.7" dx="0.85">***</text>
<line x1="151.3" y1="1811.8" x2="151.3" y2="2226.6" stroke="#5a5a5a" stroke-width="1.6" stroke-linecap="butt" />
<line x1="136.3" y1="1812.5" x2="151.3" y2="1812.5" stroke="#5a5a5a" stroke-width="1.6" stroke-linecap="butt" />
<line x1="136.3" y1="1895.1" x2="151.3" y2="1895.1" stroke="#5a5a5a" stroke-width="1.6" stroke-linecap="butt" />
<line x1="136.3" y1="1977.8" x2="151.3" y2="1977.8" stroke="#5a5a5a" stroke-width="1.6" stroke-linecap="butt" />
<line x1="136.3" y1="2060.4" x2="151.3" y2="2060.4" stroke="#5a5a5a" stroke-width="1.6" stroke-linecap="butt" />
<line x1="136.3" y1="2143.0" x2="151.3" y2="2143.0" stroke="#5a5a5a" stroke-width="1.6" stroke-linecap="butt" />
<line x1="136.3" y1="2225.7" x2="151.3" y2="2225.7" stroke="#5a5a5a" stroke-width="1.6" stroke-linecap="butt" />
<text x="123.5" y="1820.5" font-size="25" text-anchor="end" textLength="13.5" lengthAdjust="spacingAndGlyphs" >6</text>
<text x="123.5" y="1903.1" font-size="25" text-anchor="end" textLength="13.5" lengthAdjust="spacingAndGlyphs" >4</text>
<text x="123.5" y="1985.8" font-size="25" text-anchor="end" textLength="13.5" lengthAdjust="spacingAndGlyphs" >2</text>
<text x="123.5" y="2068.4" font-size="25" text-anchor="end" textLength="13.5" lengthAdjust="spacingAndGlyphs" >0</text>
<text x="123.5" y="2151.0" font-size="25" text-anchor="end" textLength="13.5" lengthAdjust="spacingAndGlyphs" >2</text>
<text x="109.5" y="2151.0" font-size="25" text-anchor="end" textLength="11.0" lengthAdjust="spacingAndGlyphs" >−</text>
<text x="123.5" y="2233.7" font-size="25" text-anchor="end" textLength="13.5" lengthAdjust="spacingAndGlyphs" >4</text>
<text x="109.5" y="2233.7" font-size="25" text-anchor="end" textLength="11.0" lengthAdjust="spacingAndGlyphs" >−</text>
<text x="74.6" y="2020.3" font-size="27" text-anchor="middle" textLength="288" lengthAdjust="spacingAndGlyphs" transform="rotate(-90 74.6 2020.3)">log<tspan font-size="17" dy="6">2</tspan><tspan dy="-6">(relative RNA1 level)</tspan></text>
<rect x="258.7" y="1913.9" width="52.1" height="146.5" fill="#0aa89c" />
<path d="M258.7 2060.4V1913.9H310.8V2060.4" fill="none" stroke="#000" stroke-width="2.7" stroke-linejoin="miter"/>
<rect x="338.7" y="1912.9" width="52.1" height="147.5" fill="#662d91" />
<path d="M338.7 2060.4V1912.9H390.8V2060.4" fill="none" stroke="#000" stroke-width="2.7" stroke-linejoin="miter"/>
<rect x="419.1" y="2060.4" width="52.4" height="100.8" fill="#b2b2b2" />
<path d="M419.1 2060.4V2161.2H471.4V2060.4" fill="none" stroke="#000" stroke-width="2.7" stroke-linejoin="miter"/>
<line x1="136.3" y1="2060.4" x2="499.3" y2="2060.4" stroke="#2a2a2a" stroke-width="1.3" stroke-linecap="butt" />
<line x1="284.7" y1="1901.2" x2="284.7" y2="1924.6" stroke="#000" stroke-width="2.7" stroke-linecap="butt" />
<line x1="271.6" y1="1901.2" x2="297.8" y2="1901.2" stroke="#000" stroke-width="2.7" stroke-linecap="round" />
<line x1="271.6" y1="1924.6" x2="297.8" y2="1924.6" stroke="#000" stroke-width="2.7" stroke-linecap="round" />
<line x1="364.7" y1="1902.4" x2="364.7" y2="1921.3" stroke="#000" stroke-width="2.7" stroke-linecap="butt" />
<line x1="351.6" y1="1902.4" x2="377.8" y2="1902.4" stroke="#000" stroke-width="2.7" stroke-linecap="round" />
<line x1="351.6" y1="1921.3" x2="377.8" y2="1921.3" stroke="#000" stroke-width="2.7" stroke-linecap="round" />
<line x1="445.1" y1="2140.2" x2="445.1" y2="2183.4" stroke="#000" stroke-width="2.7" stroke-linecap="butt" />
<line x1="431.7" y1="2140.2" x2="458.5" y2="2140.2" stroke="#000" stroke-width="2.7" stroke-linecap="round" />
<line x1="431.7" y1="2183.4" x2="458.5" y2="2183.4" stroke="#000" stroke-width="2.7" stroke-linecap="round" />
<circle cx="187.2" cy="2060.4" r="5.6" fill="#000"/>
<circle cx="204.3" cy="2060.4" r="5.6" fill="#000"/>
<circle cx="221.6" cy="2060.4" r="5.6" fill="#000"/>
<circle cx="275.8" cy="1895.7" r="5.6" fill="#000"/>
<circle cx="293.2" cy="1908.2" r="5.6" fill="#000"/>
<circle cx="284.7" cy="1935.0" r="5.6" fill="#000"/>
<circle cx="356.2" cy="1898.7" r="5.6" fill="#000"/>
<circle cx="373.6" cy="1908.2" r="5.6" fill="#000"/>
<circle cx="364.7" cy="1929.2" r="5.6" fill="#000"/>
<circle cx="436.3" cy="2140.2" r="5.6" fill="#000"/>
<circle cx="453.6" cy="2140.2" r="5.6" fill="#000"/>
<circle cx="445.1" cy="2204.8" r="5.6" fill="#000"/>
<text x="12.8" y="2264.6" font-size="27" textLength="140.5" lengthAdjust="spacingAndGlyphs" >Orsay virus</text>
<text x="204.9" y="2267.2" font-size="25.8" text-anchor="middle" >+</text>
<text x="285.6" y="2267.2" font-size="25.8" text-anchor="middle" >+</text>
<text x="366.6" y="2267.2" font-size="25.8" text-anchor="middle" >+</text>
<text x="447.6" y="2267.2" font-size="25.8" text-anchor="middle" >+</text>
<line x1="162.9" y1="2278.4" x2="506.9" y2="2278.4" stroke="#000" stroke-width="2.5" stroke-linecap="butt" />
<text x="274.0" y="2311.0" font-size="27" textLength="128.5" lengthAdjust="spacingAndGlyphs" >Viral RNA1</text>
<text x="643.5" y="1560.4" font-size="36" font-weight="bold" textLength="24.0" lengthAdjust="spacingAndGlyphs" stroke="#000" stroke-width="0.8">h</text>
<text x="795.0" y="1562.9" font-size="27" font-style="italic" textLength="132.5" lengthAdjust="spacingAndGlyphs" >Plys-3::gfp</text>
<line x1="773.7" y1="1580.5" x2="942.1" y2="1580.5" stroke="#000" stroke-width="2" stroke-linecap="butt" />
<text x="854.4" y="1620.7" font-size="19.3" text-anchor="middle" textLength="59.6" lengthAdjust="spacingAndGlyphs" >&lt;0.001</text>
<path d="M820.9 1643.0V1632.6H892.5V1643.0" fill="none" stroke="#000" stroke-width="2.8" stroke-linejoin="round" stroke-linecap="round"/>
<text x="856.8" y="1668.3" font-size="33" text-anchor="middle" stroke="#000" stroke-width="0.3" letter-spacing="1.7" dx="0.85">***</text>
<line x1="773.4" y1="1678.7" x2="773.4" y2="2085.0" stroke="#5a5a5a" stroke-width="1.6" stroke-linecap="butt" />
<line x1="758.4" y1="1679.5" x2="773.4" y2="1679.5" stroke="#5a5a5a" stroke-width="1.6" stroke-linecap="butt" />
<line x1="758.4" y1="1760.4" x2="773.4" y2="1760.4" stroke="#5a5a5a" stroke-width="1.6" stroke-linecap="butt" />
<line x1="758.4" y1="1841.4" x2="773.4" y2="1841.4" stroke="#5a5a5a" stroke-width="1.6" stroke-linecap="butt" />
<line x1="758.4" y1="1922.3" x2="773.4" y2="1922.3" stroke="#5a5a5a" stroke-width="1.6" stroke-linecap="butt" />
<line x1="758.4" y1="2003.3" x2="773.4" y2="2003.3" stroke="#5a5a5a" stroke-width="1.6" stroke-linecap="butt" />
<line x1="758.4" y1="2084.2" x2="773.4" y2="2084.2" stroke="#5a5a5a" stroke-width="1.6" stroke-linecap="butt" />
<text x="745.0" y="1687.5" font-size="25" text-anchor="end" textLength="13.5" lengthAdjust="spacingAndGlyphs" >0</text>
<text x="745.0" y="1768.4" font-size="25" text-anchor="end" textLength="10.2" lengthAdjust="spacingAndGlyphs" >1</text>
<text x="734.3" y="1768.4" font-size="25" text-anchor="end" textLength="11.0" lengthAdjust="spacingAndGlyphs" >−</text>
<text x="745.0" y="1849.4" font-size="25" text-anchor="end" textLength="13.5" lengthAdjust="spacingAndGlyphs" >2</text>
<text x="731.0" y="1849.4" font-size="25" text-anchor="end" textLength="11.0" lengthAdjust="spacingAndGlyphs" >−</text>
<text x="745.0" y="1930.3" font-size="25" text-anchor="end" textLength="13.5" lengthAdjust="spacingAndGlyphs" >3</text>
<text x="731.0" y="1930.3" font-size="25" text-anchor="end" textLength="11.0" lengthAdjust="spacingAndGlyphs" >−</text>
<text x="745.0" y="2011.3" font-size="25" text-anchor="end" textLength="13.5" lengthAdjust="spacingAndGlyphs" >4</text>
<text x="731.0" y="2011.3" font-size="25" text-anchor="end" textLength="11.0" lengthAdjust="spacingAndGlyphs" >−</text>
<text x="745.0" y="2092.2" font-size="25" text-anchor="end" textLength="13.5" lengthAdjust="spacingAndGlyphs" >5</text>
<text x="731.0" y="2092.2" font-size="25" text-anchor="end" textLength="11.0" lengthAdjust="spacingAndGlyphs" >−</text>
<text x="694.0" y="1883.3" font-size="27" text-anchor="middle" textLength="293" lengthAdjust="spacingAndGlyphs" transform="rotate(-90 694.0 1883.3)">log<tspan font-size="17" dy="6">2</tspan><tspan dy="-6">(relative RNA1 level)</tspan></text>
<rect x="869.8" y="1679.5" width="47.8" height="315.0" fill="#b2b2b2" />
<path d="M869.8 1679.5V1994.5H917.5V1679.5" fill="none" stroke="#000" stroke-width="2.9" stroke-linejoin="miter"/>
<line x1="758.4" y1="1679.5" x2="942.1" y2="1679.5" stroke="#6a6a6a" stroke-width="1.7" stroke-linecap="butt" />
<line x1="893.4" y1="1989.5" x2="893.4" y2="2000.7" stroke="#000" stroke-width="2.7" stroke-linecap="butt" />
<line x1="881.5" y1="1989.5" x2="905.3" y2="1989.5" stroke="#000" stroke-width="2.7" stroke-linecap="round" />
<line x1="881.5" y1="2000.7" x2="905.3" y2="2000.7" stroke="#000" stroke-width="2.7" stroke-linecap="round" />
<circle cx="806.0" cy="1679.5" r="5.6" fill="#000"/>
<circle cx="821.2" cy="1679.5" r="5.6" fill="#000"/>
<circle cx="836.4" cy="1679.5" r="5.6" fill="#000"/>
<circle cx="893.4" cy="1984.9" r="5.6" fill="#000"/>
<circle cx="901.6" cy="1996.2" r="5.6" fill="#000"/>
<circle cx="884.8" cy="2005.9" r="5.6" fill="#000"/>
<text x="773.0" y="2127.7" font-size="27" text-anchor="end" textLength="78.0" lengthAdjust="spacingAndGlyphs" >DMSO</text>
<text x="773.0" y="2159.1" font-size="27" text-anchor="end" textLength="174.5" lengthAdjust="spacingAndGlyphs" >pre-treatment</text>
<text x="773.0" y="2194.7" font-size="27" text-anchor="end" textLength="160.0" lengthAdjust="spacingAndGlyphs" >Tunicamycin</text>
<text x="773.0" y="2226.1" font-size="27" text-anchor="end" textLength="174.5" lengthAdjust="spacingAndGlyphs" >pre-treatment</text>
<text x="770.0" y="2260.8" font-size="27" text-anchor="end" textLength="140.5" lengthAdjust="spacingAndGlyphs" >Orsay virus</text>
<text x="819.7" y="2127.2" font-size="25.8" text-anchor="middle" >+</text>
<text x="896.7" y="2208.8" font-size="25.8" text-anchor="middle" >+</text>
<text x="819.7" y="2261.5" font-size="25.8" text-anchor="middle" >+</text>
<text x="896.7" y="2261.5" font-size="25.8" text-anchor="middle" >+</text>
<line x1="773.7" y1="2276.3" x2="942.1" y2="2276.3" stroke="#000" stroke-width="2" stroke-linecap="butt" />
<text x="793.8" y="2311.9" font-size="27" textLength="129.0" lengthAdjust="spacingAndGlyphs" >Viral RNA1</text>
<text x="1029.5" y="1560.4" font-size="36" font-weight="bold" textLength="10.0" lengthAdjust="spacingAndGlyphs" stroke="#000" stroke-width="0.8">i</text>
<text x="1236.2" y="1733.4" font-size="27" textLength="38.0" lengthAdjust="spacingAndGlyphs" transform="rotate(-90 1236.2 1733.4)" >WT</text>
<text x="1313.8" y="1733.4" font-size="27" font-style="italic" textLength="147.0" lengthAdjust="spacingAndGlyphs" transform="rotate(-90 1313.8 1733.4)" >atf-6(ok551)</text>
<text x="1393.0" y="1733.4" font-size="27" font-style="italic" textLength="156.0" lengthAdjust="spacingAndGlyphs" transform="rotate(-90 1393.0 1733.4)" >pek-1(ok275)</text>
<text x="1469.7" y="1733.4" font-size="27" font-style="italic" textLength="113.5" lengthAdjust="spacingAndGlyphs" transform="rotate(-90 1469.7 1733.4)" >ire-1(v33)</text>
<text x="1344.2" y="1766.0" font-size="19.3" text-anchor="middle" textLength="59.6" lengthAdjust="spacingAndGlyphs" >&lt;0.001</text>
<path d="M1223.1 1790.1V1779.7H1465.1V1790.1" fill="none" stroke="#000" stroke-width="2.8" stroke-linejoin="round" stroke-linecap="round"/>
<text x="1344.2" y="1811.1" font-size="33" text-anchor="middle" stroke="#000" stroke-width="0.3" letter-spacing="1.7" dx="0.85">***</text>
<line x1="1168.6" y1="1811.8" x2="1168.6" y2="2228.7" stroke="#5a5a5a" stroke-width="1.6" stroke-linecap="butt" />
<line x1="1153.6" y1="1812.6" x2="1168.6" y2="1812.6" stroke="#5a5a5a" stroke-width="1.6" stroke-linecap="butt" />
<line x1="1153.6" y1="1916.4" x2="1168.6" y2="1916.4" stroke="#5a5a5a" stroke-width="1.6" stroke-linecap="butt" />
<line x1="1153.6" y1="2020.2" x2="1168.6" y2="2020.2" stroke="#5a5a5a" stroke-width="1.6" stroke-linecap="butt" />
<line x1="1153.6" y1="2124.0" x2="1168.6" y2="2124.0" stroke="#5a5a5a" stroke-width="1.6" stroke-linecap="butt" />
<line x1="1153.6" y1="2227.8" x2="1168.6" y2="2227.8" stroke="#5a5a5a" stroke-width="1.6" stroke-linecap="butt" />
<text x="1139.5" y="1820.6" font-size="25" text-anchor="end" textLength="13.5" lengthAdjust="spacingAndGlyphs" >0</text>
<text x="1139.5" y="1924.4" font-size="25" text-anchor="end" textLength="13.5" lengthAdjust="spacingAndGlyphs" >2</text>
<text x="1125.5" y="1924.4" font-size="25" text-anchor="end" textLength="11.0" lengthAdjust="spacingAndGlyphs" >−</text>
<text x="1139.5" y="2028.2" font-size="25" text-anchor="end" textLength="13.5" lengthAdjust="spacingAndGlyphs" >4</text>
<text x="1125.5" y="2028.2" font-size="25" text-anchor="end" textLength="11.0" lengthAdjust="spacingAndGlyphs" >−</text>
<text x="1139.5" y="2132.0" font-size="25" text-anchor="end" textLength="13.5" lengthAdjust="spacingAndGlyphs" >6</text>
<text x="1125.5" y="2132.0" font-size="25" text-anchor="end" textLength="11.0" lengthAdjust="spacingAndGlyphs" >−</text>
<text x="1139.5" y="2235.8" font-size="25" text-anchor="end" textLength="13.5" lengthAdjust="spacingAndGlyphs" >8</text>
<text x="1125.5" y="2235.8" font-size="25" text-anchor="end" textLength="11.0" lengthAdjust="spacingAndGlyphs" >−</text>
<text x="1089.4" y="2021.0" font-size="27" text-anchor="middle" textLength="292" lengthAdjust="spacingAndGlyphs" transform="rotate(-90 1089.4 2021.0)">log<tspan font-size="17" dy="6">2</tspan><tspan dy="-6">(relative RNA1 level)</tspan></text>
<rect x="1276.4" y="1812.6" width="51.8" height="58.6" fill="#b2b2b2" />
<path d="M1276.4 1812.6V1871.2H1328.2V1812.6" fill="none" stroke="#000" stroke-width="2.7" stroke-linejoin="miter"/>
<rect x="1356.8" y="1812.6" width="51.8" height="54.7" fill="#b2b2b2" />
<path d="M1356.8 1812.6V1867.2H1408.7V1812.6" fill="none" stroke="#000" stroke-width="2.7" stroke-linejoin="miter"/>
<rect x="1437.2" y="1812.6" width="51.8" height="347.1" fill="#b2b2b2" />
<path d="M1437.2 1812.6V2159.7H1489.1V1812.6" fill="none" stroke="#000" stroke-width="2.7" stroke-linejoin="miter"/>
<line x1="1153.6" y1="1812.6" x2="1517.2" y2="1812.6" stroke="#6a6a6a" stroke-width="1.7" stroke-linecap="butt" />
<line x1="1301.9" y1="1841.0" x2="1301.9" y2="1903.6" stroke="#000" stroke-width="2.7" stroke-linecap="butt" />
<line x1="1288.5" y1="1841.0" x2="1315.3" y2="1841.0" stroke="#000" stroke-width="2.7" stroke-linecap="round" />
<line x1="1288.5" y1="1903.6" x2="1315.3" y2="1903.6" stroke="#000" stroke-width="2.7" stroke-linecap="round" />
<line x1="1382.3" y1="1850.0" x2="1382.3" y2="1886.6" stroke="#000" stroke-width="2.7" stroke-linecap="butt" />
<line x1="1368.9" y1="1850.0" x2="1395.7" y2="1850.0" stroke="#000" stroke-width="2.7" stroke-linecap="round" />
<line x1="1368.9" y1="1886.6" x2="1395.7" y2="1886.6" stroke="#000" stroke-width="2.7" stroke-linecap="round" />
<line x1="1463.0" y1="2130.5" x2="1463.0" y2="2191.7" stroke="#000" stroke-width="2.7" stroke-linecap="butt" />
<line x1="1449.6" y1="2130.5" x2="1476.4" y2="2130.5" stroke="#000" stroke-width="2.7" stroke-linecap="round" />
<line x1="1449.6" y1="2191.7" x2="1476.4" y2="2191.7" stroke="#000" stroke-width="2.7" stroke-linecap="round" />
<circle cx="1204.2" cy="1812.6" r="5.6" fill="#000"/>
<circle cx="1221.6" cy="1812.6" r="5.6" fill="#000"/>
<circle cx="1238.6" cy="1812.6" r="5.6" fill="#000"/>
<circle cx="1293.1" cy="1839.4" r="5.6" fill="#000"/>
<circle cx="1310.8" cy="1843.9" r="5.6" fill="#000"/>
<circle cx="1301.9" cy="1935.3" r="5.6" fill="#000"/>
<circle cx="1382.3" cy="1837.8" r="5.6" fill="#000"/>
<circle cx="1382.3" cy="1867.7" r="5.6" fill="#000"/>
<circle cx="1382.3" cy="1900.3" r="5.6" fill="#000"/>
<circle cx="1463.0" cy="2110.1" r="5.6" fill="#000"/>
<circle cx="1463.0" cy="2156.0" r="5.6" fill="#000"/>
<circle cx="1463.0" cy="2216.3" r="5.6" fill="#000"/>
<text x="1030.0" y="2266.2" font-size="27" textLength="140.5" lengthAdjust="spacingAndGlyphs" >Orsay virus</text>
<text x="1222.5" y="2269.4" font-size="25.8" text-anchor="middle" >+</text>
<text x="1303.1" y="2269.4" font-size="25.8" text-anchor="middle" >+</text>
<text x="1383.8" y="2269.4" font-size="25.8" text-anchor="middle" >+</text>
<text x="1464.5" y="2269.4" font-size="25.8" text-anchor="middle" >+</text>
<line x1="1170.7" y1="2278.4" x2="1514.7" y2="2278.4" stroke="#000" stroke-width="2.5" stroke-linecap="butt" />
<text x="1281.8" y="2310.4" font-size="27" textLength="128.5" lengthAdjust="spacingAndGlyphs" >Viral RNA1</text>
</svg>
</body></html>
